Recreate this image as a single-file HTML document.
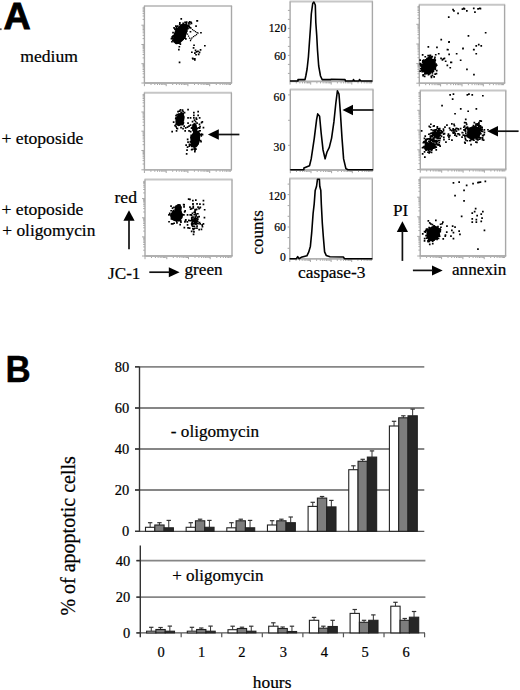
<!DOCTYPE html>
<html><head><meta charset="utf-8"><style>
html,body{margin:0;padding:0;background:#fff;}
svg{display:block;}
</style></head><body>
<svg width="520" height="690" viewBox="0 0 520 690">
<text x="3.6" y="29.3" font-size="36.6" font-weight="bold" stroke="#000" stroke-width="0.8" font-family="Liberation Sans" transform="translate(3.6,29.3) scale(1.03,1) translate(-3.6,-29.3)">A</text>
<text x="5.6" y="382.1" font-size="36.4" font-weight="bold" stroke="#000" stroke-width="0.4" font-family="Liberation Sans" transform="translate(5.6,382.1) scale(0.96,1) translate(-5.6,-382.1)">B</text>
<rect x="0" y="28.3" width="1.6" height="1.8" fill="#555"/>
<g font-family="Liberation Serif" fill="#000" stroke="#000" stroke-width="0.22">
<text transform="translate(20.3,61.5) scale(1.035,1)" font-size="17" text-anchor="start" >medium</text>
<text transform="translate(1.5,144) scale(1.035,1)" font-size="17" text-anchor="start" >+ etoposide</text>
<text transform="translate(1.5,214.5) scale(1.035,1)" font-size="17" text-anchor="start" >+ etoposide</text>
<text transform="translate(2.3,235.7) scale(1.02,1)" font-size="17" text-anchor="start" >+ oligomycin</text>
<text transform="translate(114.5,202.6) scale(1.035,1)" font-size="17" text-anchor="start" >red</text>
<text transform="translate(108,279.1) scale(1.035,1)" font-size="16.6" text-anchor="start" >JC-1</text>
<text transform="translate(184.5,275.3) scale(1.035,1)" font-size="16.6" text-anchor="start" >green</text>
<text transform="translate(298,278.4) scale(1.035,1)" font-size="16.8" text-anchor="start" >caspase-3</text>
<text transform="translate(393,216) scale(1.035,1)" font-size="16.6" text-anchor="start" >PI</text>
<text transform="translate(452,274.8) scale(1.035,1)" font-size="16.6" text-anchor="start" >annexin</text>
<text transform="translate(263,254.5) rotate(-90)" font-size="17">counts</text>
<text transform="translate(286.2,32) scale(1.0,1)" font-size="11.6" text-anchor="end" >120</text>
<text transform="translate(285.8,59.6) scale(1.0,1)" font-size="11.6" text-anchor="end" >60</text>
<text transform="translate(285.2,100.6) scale(1.0,1)" font-size="11.6" text-anchor="end" >60</text>
<text transform="translate(285.2,151) scale(1.0,1)" font-size="11.6" text-anchor="end" >30</text>
<text transform="translate(285.9,200) scale(1.0,1)" font-size="11.6" text-anchor="end" >120</text>
<text transform="translate(285.9,231.3) scale(1.0,1)" font-size="11.6" text-anchor="end" >60</text>
<text transform="translate(285.9,261.2) scale(1.0,1)" font-size="11.6" text-anchor="end" >0</text>
</g>
<path d="M141.4 83.0H144.4M142.6 77.2H144.4M142.6 73.8H144.4M142.6 71.4H144.4M142.6 69.5H144.4M142.6 68.0H144.4M142.6 66.7H144.4M142.6 65.6H144.4M142.6 64.6H144.4M141.4 63.7H144.4M142.6 57.9H144.4M142.6 54.5H144.4M142.6 52.1H144.4M142.6 50.3H144.4M142.6 48.7H144.4M142.6 47.4H144.4M142.6 46.3H144.4M142.6 45.3H144.4M141.4 44.5H144.4M142.6 38.6H144.4M142.6 35.3H144.4M142.6 32.8H144.4M142.6 31.0H144.4M142.6 29.5H144.4M142.6 28.2H144.4M142.6 27.0H144.4M142.6 26.1H144.4M141.4 25.2H144.4M142.6 19.4H144.4M142.6 16.0H144.4M142.6 13.6H144.4M142.6 11.7H144.4M142.6 10.2H144.4M142.6 8.9H144.4M142.6 7.8H144.4M144.4 83V86.2M151.0 83V85.0M154.8 83V85.0M157.5 83V85.0M159.6 83V85.0M161.3 83V85.0M162.8 83V85.0M164.1 83V85.0M165.2 83V85.0M166.2 83V86.2M172.7 83V85.0M176.6 83V85.0M179.3 83V85.0M181.4 83V85.0M183.1 83V85.0M184.6 83V85.0M185.8 83V85.0M187.0 83V85.0M187.9 83V86.2M194.5 83V85.0M198.3 83V85.0M201.1 83V85.0M203.2 83V85.0M204.9 83V85.0M206.4 83V85.0M207.6 83V85.0M208.7 83V85.0M209.7 83V86.2M216.3 83V85.0M220.1 83V85.0M222.8 83V85.0M224.9 83V85.0M226.7 83V85.0M228.1 83V85.0M229.4 83V85.0M230.5 83V85.0" stroke="#a6a6a6" stroke-width="1" fill="none"/>
<line x1="143.9" y1="5.9" x2="232.1" y2="5.9" stroke="#c6c6c6" stroke-width="2"/>
<line x1="143.9" y1="83" x2="232.1" y2="83" stroke="#b0b0b0" stroke-width="1.8"/>
<line x1="144.4" y1="5.9" x2="144.4" y2="83" stroke="#a8a8a8" stroke-width="1.4"/>
<line x1="231.5" y1="5.9" x2="231.5" y2="83" stroke="#a8a8a8" stroke-width="1.4"/>
<path d="M141.4 169.8H144.4M142.6 164.0H144.4M142.6 160.6H144.4M142.6 158.2H144.4M142.6 156.3H144.4M142.6 154.8H144.4M142.6 153.5H144.4M142.6 152.4H144.4M142.6 151.4H144.4M141.4 150.5H144.4M142.6 144.7H144.4M142.6 141.3H144.4M142.6 138.9H144.4M142.6 137.1H144.4M142.6 135.5H144.4M142.6 134.2H144.4M142.6 133.1H144.4M142.6 132.1H144.4M141.4 131.2H144.4M142.6 125.4H144.4M142.6 122.1H144.4M142.6 119.6H144.4M142.6 117.8H144.4M142.6 116.3H144.4M142.6 115.0H144.4M142.6 113.8H144.4M142.6 112.9H144.4M141.4 112.0H144.4M142.6 106.2H144.4M142.6 102.8H144.4M142.6 100.4H144.4M142.6 98.5H144.4M142.6 97.0H144.4M142.6 95.7H144.4M142.6 94.6H144.4M144.4 169.8V173.0M150.9 169.8V171.8M154.8 169.8V171.8M157.5 169.8V171.8M159.6 169.8V171.8M161.3 169.8V171.8M162.8 169.8V171.8M164.0 169.8V171.8M165.2 169.8V171.8M166.2 169.8V173.0M172.7 169.8V171.8M176.5 169.8V171.8M179.2 169.8V171.8M181.4 169.8V171.8M183.1 169.8V171.8M184.5 169.8V171.8M185.8 169.8V171.8M186.9 169.8V171.8M187.9 169.8V173.0M194.4 169.8V171.8M198.3 169.8V171.8M201.0 169.8V171.8M203.1 169.8V171.8M204.8 169.8V171.8M206.3 169.8V171.8M207.5 169.8V171.8M208.7 169.8V171.8M209.7 169.8V173.0M216.2 169.8V171.8M220.0 169.8V171.8M222.7 169.8V171.8M224.9 169.8V171.8M226.6 169.8V171.8M228.0 169.8V171.8M229.3 169.8V171.8M230.4 169.8V171.8" stroke="#a6a6a6" stroke-width="1" fill="none"/>
<line x1="143.9" y1="92.7" x2="232.0" y2="92.7" stroke="#c6c6c6" stroke-width="2"/>
<line x1="143.9" y1="169.8" x2="232.0" y2="169.8" stroke="#b0b0b0" stroke-width="1.8"/>
<line x1="144.4" y1="92.7" x2="144.4" y2="169.8" stroke="#a8a8a8" stroke-width="1.4"/>
<line x1="231.4" y1="92.7" x2="231.4" y2="169.8" stroke="#a8a8a8" stroke-width="1.4"/>
<path d="M142.0 256.0H145M143.2 250.2H145M143.2 246.9H145M143.2 244.5H145M143.2 242.6H145M143.2 241.1H145M143.2 239.8H145M143.2 238.7H145M143.2 237.8H145M142.0 236.9H145M143.2 231.1H145M143.2 227.8H145M143.2 225.4H145M143.2 223.5H145M143.2 222.0H145M143.2 220.7H145M143.2 219.6H145M143.2 218.6H145M142.0 217.8H145M143.2 212.0H145M143.2 208.6H145M143.2 206.2H145M143.2 204.4H145M143.2 202.9H145M143.2 201.6H145M143.2 200.5H145M143.2 199.5H145M142.0 198.6H145M143.2 192.9H145M143.2 189.5H145M143.2 187.1H145M143.2 185.3H145M143.2 183.7H145M143.2 182.5H145M143.2 181.4H145M145.0 256V259.2M151.5 256V258.0M155.4 256V258.0M158.1 256V258.0M160.2 256V258.0M161.9 256V258.0M163.4 256V258.0M164.6 256V258.0M165.8 256V258.0M166.8 256V259.2M173.3 256V258.0M177.1 256V258.0M179.8 256V258.0M182.0 256V258.0M183.7 256V258.0M185.1 256V258.0M186.4 256V258.0M187.5 256V258.0M188.5 256V259.2M195.0 256V258.0M198.9 256V258.0M201.6 256V258.0M203.7 256V258.0M205.4 256V258.0M206.9 256V258.0M208.1 256V258.0M209.3 256V258.0M210.2 256V259.2M216.8 256V258.0M220.6 256V258.0M223.3 256V258.0M225.5 256V258.0M227.2 256V258.0M228.6 256V258.0M229.9 256V258.0M231.0 256V258.0" stroke="#a6a6a6" stroke-width="1" fill="none"/>
<line x1="144.5" y1="179.5" x2="232.6" y2="179.5" stroke="#c6c6c6" stroke-width="2"/>
<line x1="144.5" y1="256" x2="232.6" y2="256" stroke="#b0b0b0" stroke-width="1.8"/>
<line x1="145" y1="179.5" x2="145" y2="256" stroke="#a8a8a8" stroke-width="1.4"/>
<line x1="232" y1="179.5" x2="232" y2="256" stroke="#a8a8a8" stroke-width="1.4"/>
<path d="M416.3 83.2H419.3M417.5 77.3H419.3M417.5 73.8H419.3M417.5 71.4H419.3M417.5 69.5H419.3M417.5 67.9H419.3M417.5 66.6H419.3M417.5 65.5H419.3M417.5 64.5H419.3M416.3 63.6H419.3M417.5 57.7H419.3M417.5 54.2H419.3M417.5 51.8H419.3M417.5 49.9H419.3M417.5 48.3H419.3M417.5 47.0H419.3M417.5 45.9H419.3M417.5 44.8H419.3M416.3 44.0H419.3M417.5 38.0H419.3M417.5 34.6H419.3M417.5 32.1H419.3M417.5 30.2H419.3M417.5 28.7H419.3M417.5 27.4H419.3M417.5 26.2H419.3M417.5 25.2H419.3M416.3 24.3H419.3M417.5 18.4H419.3M417.5 15.0H419.3M417.5 12.5H419.3M417.5 10.6H419.3M417.5 9.1H419.3M417.5 7.7H419.3M417.5 6.6H419.3M419.3 83.2V86.4M425.7 83.2V85.2M429.5 83.2V85.2M432.1 83.2V85.2M434.2 83.2V85.2M435.9 83.2V85.2M437.3 83.2V85.2M438.6 83.2V85.2M439.6 83.2V85.2M440.6 83.2V86.4M447.0 83.2V85.2M450.8 83.2V85.2M453.5 83.2V85.2M455.5 83.2V85.2M457.2 83.2V85.2M458.6 83.2V85.2M459.9 83.2V85.2M461.0 83.2V85.2M462.0 83.2V86.4M468.4 83.2V85.2M472.1 83.2V85.2M474.8 83.2V85.2M476.9 83.2V85.2M478.5 83.2V85.2M480.0 83.2V85.2M481.2 83.2V85.2M482.3 83.2V85.2M483.3 83.2V86.4M489.7 83.2V85.2M493.4 83.2V85.2M496.1 83.2V85.2M498.2 83.2V85.2M499.9 83.2V85.2M501.3 83.2V85.2M502.5 83.2V85.2M503.6 83.2V85.2" stroke="#a6a6a6" stroke-width="1" fill="none"/>
<line x1="418.8" y1="4.7" x2="505.20000000000005" y2="4.7" stroke="#c6c6c6" stroke-width="2"/>
<line x1="418.8" y1="83.2" x2="505.20000000000005" y2="83.2" stroke="#b0b0b0" stroke-width="1.8"/>
<line x1="419.3" y1="4.7" x2="419.3" y2="83.2" stroke="#a8a8a8" stroke-width="1.4"/>
<line x1="504.6" y1="4.7" x2="504.6" y2="83.2" stroke="#a8a8a8" stroke-width="1.4"/>
<path d="M417.3 169.5H420.3M418.5 163.6H420.3M418.5 160.1H420.3M418.5 157.6H420.3M418.5 155.7H420.3M418.5 154.2H420.3M418.5 152.8H420.3M418.5 151.7H420.3M418.5 150.7H420.3M417.3 149.8H420.3M418.5 143.8H420.3M418.5 140.4H420.3M418.5 137.9H420.3M418.5 136.0H420.3M418.5 134.4H420.3M418.5 133.1H420.3M418.5 132.0H420.3M418.5 131.0H420.3M417.3 130.1H420.3M418.5 124.1H420.3M418.5 120.6H420.3M418.5 118.2H420.3M418.5 116.3H420.3M418.5 114.7H420.3M418.5 113.4H420.3M418.5 112.2H420.3M418.5 111.2H420.3M417.3 110.3H420.3M418.5 104.4H420.3M418.5 100.9H420.3M418.5 98.4H420.3M418.5 96.5H420.3M418.5 95.0H420.3M418.5 93.7H420.3M418.5 92.5H420.3M420.3 169.5V172.7M426.7 169.5V171.5M430.5 169.5V171.5M433.2 169.5V171.5M435.2 169.5V171.5M436.9 169.5V171.5M438.4 169.5V171.5M439.6 169.5V171.5M440.7 169.5V171.5M441.7 169.5V172.7M448.1 169.5V171.5M451.9 169.5V171.5M454.5 169.5V171.5M456.6 169.5V171.5M458.3 169.5V171.5M459.7 169.5V171.5M461.0 169.5V171.5M462.1 169.5V171.5M463.1 169.5V172.7M469.5 169.5V171.5M473.2 169.5V171.5M475.9 169.5V171.5M478.0 169.5V171.5M479.7 169.5V171.5M481.1 169.5V171.5M482.4 169.5V171.5M483.4 169.5V171.5M484.4 169.5V172.7M490.9 169.5V171.5M494.6 169.5V171.5M497.3 169.5V171.5M499.4 169.5V171.5M501.1 169.5V171.5M502.5 169.5V171.5M503.7 169.5V171.5M504.8 169.5V171.5" stroke="#a6a6a6" stroke-width="1" fill="none"/>
<line x1="419.8" y1="90.6" x2="506.40000000000003" y2="90.6" stroke="#c6c6c6" stroke-width="2"/>
<line x1="419.8" y1="169.5" x2="506.40000000000003" y2="169.5" stroke="#b0b0b0" stroke-width="1.8"/>
<line x1="420.3" y1="90.6" x2="420.3" y2="169.5" stroke="#a8a8a8" stroke-width="1.4"/>
<line x1="505.8" y1="90.6" x2="505.8" y2="169.5" stroke="#a8a8a8" stroke-width="1.4"/>
<path d="M417.2 256.0H420.2M418.4 250.1H420.2M418.4 246.6H420.2M418.4 244.2H420.2M418.4 242.3H420.2M418.4 240.7H420.2M418.4 239.4H420.2M418.4 238.3H420.2M418.4 237.3H420.2M417.2 236.4H420.2M418.4 230.5H420.2M418.4 227.0H420.2M418.4 224.6H420.2M418.4 222.7H420.2M418.4 221.1H420.2M418.4 219.8H420.2M418.4 218.7H420.2M418.4 217.7H420.2M417.2 216.8H420.2M418.4 210.9H420.2M418.4 207.4H420.2M418.4 205.0H420.2M418.4 203.1H420.2M418.4 201.5H420.2M418.4 200.2H420.2M418.4 199.1H420.2M418.4 198.1H420.2M417.2 197.2H420.2M418.4 191.3H420.2M418.4 187.8H420.2M418.4 185.4H420.2M418.4 183.5H420.2M418.4 181.9H420.2M418.4 180.6H420.2M418.4 179.5H420.2M420.2 256V259.2M426.6 256V258.0M430.4 256V258.0M433.1 256V258.0M435.1 256V258.0M436.8 256V258.0M438.2 256V258.0M439.5 256V258.0M440.6 256V258.0M441.6 256V259.2M448.0 256V258.0M451.7 256V258.0M454.4 256V258.0M456.5 256V258.0M458.2 256V258.0M459.6 256V258.0M460.8 256V258.0M461.9 256V258.0M462.9 256V259.2M469.3 256V258.0M473.1 256V258.0M475.8 256V258.0M477.8 256V258.0M479.5 256V258.0M480.9 256V258.0M482.2 256V258.0M483.3 256V258.0M484.2 256V259.2M490.7 256V258.0M494.4 256V258.0M497.1 256V258.0M499.2 256V258.0M500.9 256V258.0M502.3 256V258.0M503.5 256V258.0M504.6 256V258.0" stroke="#a6a6a6" stroke-width="1" fill="none"/>
<line x1="419.7" y1="177.6" x2="506.20000000000005" y2="177.6" stroke="#c6c6c6" stroke-width="2"/>
<line x1="419.7" y1="256" x2="506.20000000000005" y2="256" stroke="#b0b0b0" stroke-width="1.8"/>
<line x1="420.2" y1="177.6" x2="420.2" y2="256" stroke="#a8a8a8" stroke-width="1.4"/>
<line x1="505.6" y1="177.6" x2="505.6" y2="256" stroke="#a8a8a8" stroke-width="1.4"/>
<path d="M287.9 10.4H290.1M287.9 19.4H290.1M287.9 28.4H290.1M287.9 37.4H290.1M287.9 46.4H290.1M287.9 55.4H290.1M287.9 64.4H290.1M287.9 73.4H290.1M290.1 81.4V84.6M296.3 81.4V83.4M299.9 81.4V83.4M302.5 81.4V83.4M304.5 81.4V83.4M306.1 81.4V83.4M307.5 81.4V83.4M308.7 81.4V83.4M309.7 81.4V83.4M310.7 81.4V84.6M316.9 81.4V83.4M320.5 81.4V83.4M323.1 81.4V83.4M325.1 81.4V83.4M326.7 81.4V83.4M328.1 81.4V83.4M329.3 81.4V83.4M330.3 81.4V83.4M331.2 81.4V84.6M337.4 81.4V83.4M341.1 81.4V83.4M343.6 81.4V83.4M345.6 81.4V83.4M347.3 81.4V83.4M348.6 81.4V83.4M349.8 81.4V83.4M350.9 81.4V83.4M351.8 81.4V84.6M358.0 81.4V83.4M361.6 81.4V83.4M364.2 81.4V83.4M366.2 81.4V83.4M367.8 81.4V83.4M369.2 81.4V83.4M370.4 81.4V83.4M371.5 81.4V83.4" stroke="#a6a6a6" stroke-width="1" fill="none"/>
<line x1="289.6" y1="1.4" x2="373.0" y2="1.4" stroke="#c6c6c6" stroke-width="2"/>
<line x1="289.6" y1="81.4" x2="373.0" y2="81.4" stroke="#b0b0b0" stroke-width="1.8"/>
<line x1="290.1" y1="1.4" x2="290.1" y2="81.4" stroke="#a8a8a8" stroke-width="1.4"/>
<line x1="372.4" y1="1.4" x2="372.4" y2="81.4" stroke="#a8a8a8" stroke-width="1.4"/>
<path d="M288.1 94.9H290.3M288.1 120.3H290.3M288.1 145.3H290.3M290.3 170V173.2M296.5 170V172.0M300.2 170V172.0M302.7 170V172.0M304.8 170V172.0M306.4 170V172.0M307.8 170V172.0M309.0 170V172.0M310.0 170V172.0M311.0 170V173.2M317.2 170V172.0M320.8 170V172.0M323.4 170V172.0M325.4 170V172.0M327.1 170V172.0M328.4 170V172.0M329.6 170V172.0M330.7 170V172.0M331.6 170V173.2M337.9 170V172.0M341.5 170V172.0M344.1 170V172.0M346.1 170V172.0M347.7 170V172.0M349.1 170V172.0M350.3 170V172.0M351.4 170V172.0M352.3 170V173.2M358.5 170V172.0M362.2 170V172.0M364.8 170V172.0M366.8 170V172.0M368.4 170V172.0M369.8 170V172.0M371.0 170V172.0M372.1 170V172.0" stroke="#a6a6a6" stroke-width="1" fill="none"/>
<line x1="289.8" y1="89.6" x2="373.6" y2="89.6" stroke="#c6c6c6" stroke-width="2"/>
<line x1="289.8" y1="170" x2="373.6" y2="170" stroke="#b0b0b0" stroke-width="1.8"/>
<line x1="290.3" y1="89.6" x2="290.3" y2="170" stroke="#a8a8a8" stroke-width="1.4"/>
<line x1="373" y1="89.6" x2="373" y2="170" stroke="#a8a8a8" stroke-width="1.4"/>
<path d="M287.6 184.1H289.8M287.6 194.6H289.8M287.6 205.6H289.8M287.6 216.3H289.8M287.6 227.0H289.8M287.6 237.6H289.8M287.6 248.3H289.8M289.8 258.8V262.0M296.0 258.8V260.8M299.6 258.8V260.8M302.2 258.8V260.8M304.2 258.8V260.8M305.8 258.8V260.8M307.2 258.8V260.8M308.4 258.8V260.8M309.5 258.8V260.8M310.4 258.8V262.0M316.6 258.8V260.8M320.3 258.8V260.8M322.8 258.8V260.8M324.8 258.8V260.8M326.5 258.8V260.8M327.9 258.8V260.8M329.1 258.8V260.8M330.1 258.8V260.8M331.1 258.8V262.0M337.3 258.8V260.8M340.9 258.8V260.8M343.5 258.8V260.8M345.5 258.8V260.8M347.1 258.8V260.8M348.5 258.8V260.8M349.7 258.8V260.8M350.7 258.8V260.8M351.7 258.8V262.0M357.9 258.8V260.8M361.5 258.8V260.8M364.1 258.8V260.8M366.1 258.8V260.8M367.7 258.8V260.8M369.1 258.8V260.8M370.3 258.8V260.8M371.4 258.8V260.8" stroke="#a6a6a6" stroke-width="1" fill="none"/>
<line x1="289.3" y1="178.6" x2="372.90000000000003" y2="178.6" stroke="#c6c6c6" stroke-width="2"/>
<line x1="289.3" y1="258.8" x2="372.90000000000003" y2="258.8" stroke="#b0b0b0" stroke-width="1.8"/>
<line x1="289.8" y1="178.6" x2="289.8" y2="258.8" stroke="#a8a8a8" stroke-width="1.4"/>
<line x1="372.3" y1="178.6" x2="372.3" y2="258.8" stroke="#a8a8a8" stroke-width="1.4"/>
<ellipse cx="180.2" cy="34" rx="6.0" ry="11" transform="rotate(26 180.2 34)" fill="#000"/>
<path d="M185.9 22.9h1.25v1.25h-1.25zM187.4 24.4h1.25v1.25h-1.25zM188.9 25.9h1.25v1.25h-1.25zM190.4 27.4h1.25v1.25h-1.25zM191.9 28.9h1.25v1.25h-1.25zM193.4 29.9h1.25v1.25h-1.25zM194.9 30.9h1.25v1.25h-1.25zM196.4 31.9h1.25v1.25h-1.25zM197.4 32.6h1.25v1.25h-1.25zM195.9 33.9h1.25v1.25h-1.25zM194.4 34.9h1.25v1.25h-1.25zM192.9 36.0h1.25v1.25h-1.25zM191.4 37.2h1.25v1.25h-1.25zM190.4 38.4h1.25v1.25h-1.25zM189.9 39.9h1.25v1.25h-1.25zM188.9 37.4h1.25v1.25h-1.25zM187.9 35.4h1.25v1.25h-1.25zM186.9 33.4h1.25v1.25h-1.25zM185.9 30.9h1.25v1.25h-1.25zM189.4 23.4h1.25v1.25h-1.25zM187.9 22.2h1.25v1.25h-1.25z" fill="#000"/>
<path d="M177.4 35.4h1.7v1.7h-1.7zM179.5 31.3h1.7v1.7h-1.7zM177.4 30.9h1.7v1.7h-1.7zM181.3 36.7h1.7v1.7h-1.7zM181.5 35.8h1.7v1.7h-1.7zM180.0 34.6h1.7v1.7h-1.7zM172.8 35.3h1.7v1.7h-1.7zM179.5 36.3h1.7v1.7h-1.7zM179.0 22.1h1.7v1.7h-1.7zM178.1 29.6h1.7v1.7h-1.7zM180.3 33.3h1.7v1.7h-1.7zM182.3 30.6h1.7v1.7h-1.7zM179.2 35.5h1.7v1.7h-1.7zM173.4 40.9h1.7v1.7h-1.7zM177.9 39.9h1.7v1.7h-1.7zM179.5 28.6h1.7v1.7h-1.7zM178.7 32.2h1.7v1.7h-1.7zM180.5 35.2h1.7v1.7h-1.7zM180.5 27.7h1.7v1.7h-1.7zM175.0 38.6h1.7v1.7h-1.7zM176.6 33.3h1.7v1.7h-1.7zM184.1 26.2h1.7v1.7h-1.7zM176.3 39.8h1.7v1.7h-1.7zM174.7 28.9h1.7v1.7h-1.7zM181.1 28.9h1.7v1.7h-1.7zM180.8 33.5h1.7v1.7h-1.7zM173.4 35.4h1.7v1.7h-1.7zM178.9 38.8h1.7v1.7h-1.7zM182.4 36.9h1.7v1.7h-1.7zM182.8 26.8h1.7v1.7h-1.7zM182.5 30.9h1.7v1.7h-1.7zM181.2 26.2h1.7v1.7h-1.7zM178.0 29.2h1.7v1.7h-1.7zM187.8 24.6h1.7v1.7h-1.7zM174.8 32.5h1.7v1.7h-1.7zM181.8 38.0h1.7v1.7h-1.7zM180.4 18.0h1.7v1.7h-1.7zM182.1 29.9h1.7v1.7h-1.7zM173.9 36.6h1.7v1.7h-1.7zM181.9 35.4h1.7v1.7h-1.7zM179.0 35.7h1.7v1.7h-1.7zM182.1 38.4h1.7v1.7h-1.7zM179.4 36.6h1.7v1.7h-1.7zM172.0 37.6h1.7v1.7h-1.7zM180.6 37.1h1.7v1.7h-1.7zM175.6 27.4h1.7v1.7h-1.7zM186.0 25.1h1.7v1.7h-1.7zM176.4 38.1h1.7v1.7h-1.7zM171.9 39.6h1.7v1.7h-1.7zM181.2 33.1h1.7v1.7h-1.7zM178.6 36.9h1.7v1.7h-1.7zM176.9 39.1h1.7v1.7h-1.7zM178.6 30.2h1.7v1.7h-1.7zM182.1 34.6h1.7v1.7h-1.7zM174.7 36.8h1.7v1.7h-1.7zM184.4 32.8h1.7v1.7h-1.7zM176.0 30.7h1.7v1.7h-1.7zM179.7 31.5h1.7v1.7h-1.7zM185.6 29.8h1.7v1.7h-1.7zM185.8 28.4h1.7v1.7h-1.7zM175.7 35.3h1.7v1.7h-1.7zM180.3 39.0h1.7v1.7h-1.7zM179.9 34.3h1.7v1.7h-1.7zM178.4 36.2h1.7v1.7h-1.7zM178.2 34.3h1.7v1.7h-1.7zM180.9 33.9h1.7v1.7h-1.7zM180.0 37.0h1.7v1.7h-1.7zM184.0 37.4h1.7v1.7h-1.7zM179.1 30.7h1.7v1.7h-1.7zM177.1 37.8h1.7v1.7h-1.7zM177.5 34.7h1.7v1.7h-1.7zM190.6 22.6h1.7v1.7h-1.7zM175.7 32.9h1.7v1.7h-1.7zM179.8 34.9h1.7v1.7h-1.7zM176.6 35.9h1.7v1.7h-1.7zM181.4 30.9h1.7v1.7h-1.7zM185.0 38.1h1.7v1.7h-1.7zM178.1 31.9h1.7v1.7h-1.7zM178.9 32.5h1.7v1.7h-1.7zM173.2 27.1h1.7v1.7h-1.7zM184.9 28.6h1.7v1.7h-1.7zM176.8 37.9h1.7v1.7h-1.7zM178.0 41.8h1.7v1.7h-1.7zM175.6 29.1h1.7v1.7h-1.7zM176.9 35.8h1.7v1.7h-1.7zM188.8 21.0h1.7v1.7h-1.7zM185.8 27.3h1.7v1.7h-1.7zM184.8 26.5h1.7v1.7h-1.7zM176.9 39.4h1.7v1.7h-1.7zM178.5 33.9h1.7v1.7h-1.7zM181.2 34.9h1.7v1.7h-1.7zM175.4 40.8h1.7v1.7h-1.7zM182.9 33.0h1.7v1.7h-1.7zM189.6 30.9h1.7v1.7h-1.7zM182.5 33.0h1.7v1.7h-1.7zM178.0 36.9h1.7v1.7h-1.7zM178.4 36.7h1.7v1.7h-1.7zM178.9 23.5h1.7v1.7h-1.7zM183.4 29.1h1.7v1.7h-1.7zM180.2 24.4h1.7v1.7h-1.7zM181.0 38.6h1.7v1.7h-1.7zM185.6 30.3h1.7v1.7h-1.7zM182.1 27.4h1.7v1.7h-1.7zM177.5 42.2h1.7v1.7h-1.7zM173.1 39.9h1.7v1.7h-1.7zM182.5 33.5h1.7v1.7h-1.7zM170.6 37.7h1.7v1.7h-1.7zM180.6 30.0h1.7v1.7h-1.7zM179.4 35.7h1.7v1.7h-1.7zM185.9 30.0h1.7v1.7h-1.7zM178.8 42.1h1.7v1.7h-1.7zM183.7 34.1h1.7v1.7h-1.7zM174.9 37.3h1.7v1.7h-1.7zM179.4 33.9h1.7v1.7h-1.7zM183.8 33.7h1.7v1.7h-1.7zM174.1 28.2h1.7v1.7h-1.7zM172.3 34.9h1.7v1.7h-1.7zM181.7 30.5h1.7v1.7h-1.7zM177.3 37.3h1.7v1.7h-1.7zM176.3 39.9h1.7v1.7h-1.7zM176.7 38.3h1.7v1.7h-1.7zM179.5 43.2h1.7v1.7h-1.7zM175.4 36.7h1.7v1.7h-1.7zM176.9 25.2h1.7v1.7h-1.7zM171.4 36.0h1.7v1.7h-1.7zM176.1 31.5h1.7v1.7h-1.7zM178.9 32.8h1.7v1.7h-1.7zM177.2 33.6h1.7v1.7h-1.7zM184.1 35.7h1.7v1.7h-1.7zM178.3 38.9h1.7v1.7h-1.7zM181.9 26.5h1.7v1.7h-1.7zM175.2 37.8h1.7v1.7h-1.7zM176.4 28.0h1.7v1.7h-1.7zM180.1 38.5h1.7v1.7h-1.7zM177.4 37.2h1.7v1.7h-1.7zM182.7 27.4h1.7v1.7h-1.7zM176.7 27.9h1.7v1.7h-1.7zM183.2 31.5h1.7v1.7h-1.7zM178.8 28.1h1.7v1.7h-1.7zM175.5 30.6h1.7v1.7h-1.7zM175.3 33.4h1.7v1.7h-1.7zM172.2 31.7h1.7v1.7h-1.7zM182.3 22.5h1.7v1.7h-1.7zM182.0 32.7h1.7v1.7h-1.7zM175.5 25.8h1.7v1.7h-1.7zM181.3 31.2h1.7v1.7h-1.7zM179.6 37.9h1.7v1.7h-1.7zM180.4 35.7h1.7v1.7h-1.7zM181.3 38.2h1.7v1.7h-1.7zM185.6 23.2h1.7v1.7h-1.7zM186.3 27.1h1.7v1.7h-1.7zM184.1 24.4h1.7v1.7h-1.7zM188.1 22.5h1.7v1.7h-1.7zM185.5 28.8h1.7v1.7h-1.7zM183.0 26.2h1.7v1.7h-1.7zM188.0 25.0h1.7v1.7h-1.7zM185.7 26.5h1.7v1.7h-1.7zM183.0 25.0h1.7v1.7h-1.7zM185.2 26.4h1.7v1.7h-1.7zM184.6 24.9h1.7v1.7h-1.7zM182.8 24.6h1.7v1.7h-1.7zM186.3 25.3h1.7v1.7h-1.7zM183.1 23.9h1.7v1.7h-1.7zM189.5 26.9h1.7v1.7h-1.7zM185.8 21.3h1.7v1.7h-1.7zM185.8 25.9h1.7v1.7h-1.7zM187.7 25.8h1.7v1.7h-1.7zM184.5 25.9h1.7v1.7h-1.7zM181.2 26.7h1.7v1.7h-1.7zM185.2 24.1h1.7v1.7h-1.7zM187.0 27.9h1.7v1.7h-1.7zM182.1 24.2h1.7v1.7h-1.7zM185.2 25.4h1.7v1.7h-1.7zM183.9 23.7h1.7v1.7h-1.7zM188.5 26.7h1.7v1.7h-1.7zM196.2 20.1h1.7v1.7h-1.7zM195.2 25.3h1.7v1.7h-1.7zM200.1 31.9h1.7v1.7h-1.7zM175.0 25.2h1.7v1.7h-1.7zM178.0 48.8h1.7v1.7h-1.7zM193.2 44.4h1.7v1.7h-1.7zM204.0 44.9h1.7v1.7h-1.7zM192.7 47.0h1.7v1.7h-1.7zM194.0 52.2h1.7v1.7h-1.7zM197.1 50.4h1.7v1.7h-1.7zM199.7 49.1h1.7v1.7h-1.7zM191.0 51.4h1.7v1.7h-1.7zM195.2 53.9h1.7v1.7h-1.7zM197.8 53.5h1.7v1.7h-1.7zM191.8 57.4h1.7v1.7h-1.7zM194.0 57.9h1.7v1.7h-1.7zM171.1 40.9h1.7v1.7h-1.7zM178.7 61.6h1.7v1.7h-1.7zM192.2 58.1h1.7v1.7h-1.7zM194.0 59.1h1.7v1.7h-1.7zM196.5 20.1h1.7v1.7h-1.7zM198.7 51.6h1.7v1.7h-1.7zM195.7 51.1h1.7v1.7h-1.7zM194.7 49.6h1.7v1.7h-1.7zM184.2 21.6h1.7v1.7h-1.7zM190.2 21.6h1.7v1.7h-1.7zM178.5 45.9h1.7v1.7h-1.7zM171.5 37.6h1.7v1.7h-1.7z" fill="#000"/>
<ellipse cx="180" cy="119.6" rx="4.3" ry="6.8" transform="rotate(18 180 119.6)" fill="#000"/>
<ellipse cx="195.2" cy="139.5" rx="4.8" ry="8.6" transform="rotate(8 195.2 139.5)" fill="#000"/>
<ellipse cx="194.6" cy="128" rx="2.4" ry="5" transform="rotate(0 194.6 128)" fill="#000"/>
<path d="M178.0 113.3h1.7v1.7h-1.7zM181.8 123.3h1.7v1.7h-1.7zM182.3 122.8h1.7v1.7h-1.7zM177.0 119.1h1.7v1.7h-1.7zM175.2 114.7h1.7v1.7h-1.7zM178.5 120.5h1.7v1.7h-1.7zM177.7 117.8h1.7v1.7h-1.7zM179.8 120.4h1.7v1.7h-1.7zM180.3 119.9h1.7v1.7h-1.7zM177.6 121.2h1.7v1.7h-1.7zM180.1 115.9h1.7v1.7h-1.7zM177.8 118.3h1.7v1.7h-1.7zM178.7 119.2h1.7v1.7h-1.7zM179.0 119.4h1.7v1.7h-1.7zM180.2 114.3h1.7v1.7h-1.7zM179.0 122.7h1.7v1.7h-1.7zM180.3 118.4h1.7v1.7h-1.7zM181.2 115.7h1.7v1.7h-1.7zM174.9 117.7h1.7v1.7h-1.7zM176.3 120.7h1.7v1.7h-1.7zM179.6 109.0h1.7v1.7h-1.7zM175.2 123.5h1.7v1.7h-1.7zM179.8 113.8h1.7v1.7h-1.7zM176.9 120.0h1.7v1.7h-1.7zM180.1 119.7h1.7v1.7h-1.7zM181.7 122.2h1.7v1.7h-1.7zM178.5 120.8h1.7v1.7h-1.7zM181.8 123.2h1.7v1.7h-1.7zM182.6 115.7h1.7v1.7h-1.7zM178.0 121.2h1.7v1.7h-1.7zM177.4 122.2h1.7v1.7h-1.7zM179.5 122.3h1.7v1.7h-1.7zM176.0 127.4h1.7v1.7h-1.7zM182.1 118.9h1.7v1.7h-1.7zM176.6 127.7h1.7v1.7h-1.7zM177.5 121.5h1.7v1.7h-1.7zM181.3 119.4h1.7v1.7h-1.7zM176.4 118.6h1.7v1.7h-1.7zM178.7 122.9h1.7v1.7h-1.7zM180.8 119.4h1.7v1.7h-1.7zM180.5 121.2h1.7v1.7h-1.7zM179.5 119.1h1.7v1.7h-1.7zM177.9 120.9h1.7v1.7h-1.7zM177.5 115.9h1.7v1.7h-1.7zM180.7 113.7h1.7v1.7h-1.7zM180.3 111.5h1.7v1.7h-1.7zM177.0 120.2h1.7v1.7h-1.7zM180.5 118.9h1.7v1.7h-1.7zM180.1 113.7h1.7v1.7h-1.7zM182.6 121.8h1.7v1.7h-1.7zM182.5 116.5h1.7v1.7h-1.7zM180.7 112.4h1.7v1.7h-1.7zM179.9 122.5h1.7v1.7h-1.7zM175.0 117.3h1.7v1.7h-1.7zM182.4 113.1h1.7v1.7h-1.7zM176.3 113.8h1.7v1.7h-1.7zM179.3 113.5h1.7v1.7h-1.7zM179.0 119.6h1.7v1.7h-1.7zM179.8 121.6h1.7v1.7h-1.7zM181.2 123.8h1.7v1.7h-1.7zM176.8 116.1h1.7v1.7h-1.7zM178.0 114.3h1.7v1.7h-1.7zM179.0 118.7h1.7v1.7h-1.7zM181.9 113.6h1.7v1.7h-1.7zM176.5 117.8h1.7v1.7h-1.7zM179.0 117.5h1.7v1.7h-1.7zM179.8 116.1h1.7v1.7h-1.7zM180.3 120.4h1.7v1.7h-1.7zM179.7 116.4h1.7v1.7h-1.7zM181.7 109.3h1.7v1.7h-1.7zM191.6 136.0h1.7v1.7h-1.7zM190.1 136.8h1.7v1.7h-1.7zM195.4 128.7h1.7v1.7h-1.7zM193.7 134.4h1.7v1.7h-1.7zM194.9 139.6h1.7v1.7h-1.7zM194.6 131.5h1.7v1.7h-1.7zM193.8 135.7h1.7v1.7h-1.7zM195.9 138.0h1.7v1.7h-1.7zM193.2 128.5h1.7v1.7h-1.7zM193.7 132.0h1.7v1.7h-1.7zM191.4 135.2h1.7v1.7h-1.7zM192.8 136.6h1.7v1.7h-1.7zM195.8 134.1h1.7v1.7h-1.7zM200.4 135.1h1.7v1.7h-1.7zM196.9 137.2h1.7v1.7h-1.7zM198.6 123.5h1.7v1.7h-1.7zM192.0 137.3h1.7v1.7h-1.7zM194.2 149.1h1.7v1.7h-1.7zM194.1 143.2h1.7v1.7h-1.7zM195.5 141.6h1.7v1.7h-1.7zM195.6 135.5h1.7v1.7h-1.7zM196.2 130.4h1.7v1.7h-1.7zM197.9 131.0h1.7v1.7h-1.7zM193.4 147.8h1.7v1.7h-1.7zM193.6 136.2h1.7v1.7h-1.7zM197.1 136.7h1.7v1.7h-1.7zM191.9 137.3h1.7v1.7h-1.7zM195.2 140.2h1.7v1.7h-1.7zM191.0 145.5h1.7v1.7h-1.7zM198.4 136.8h1.7v1.7h-1.7zM195.1 133.9h1.7v1.7h-1.7zM198.3 132.7h1.7v1.7h-1.7zM196.2 133.7h1.7v1.7h-1.7zM191.9 139.9h1.7v1.7h-1.7zM197.6 136.5h1.7v1.7h-1.7zM191.9 140.4h1.7v1.7h-1.7zM193.8 137.8h1.7v1.7h-1.7zM197.3 142.8h1.7v1.7h-1.7zM191.3 148.5h1.7v1.7h-1.7zM193.6 140.4h1.7v1.7h-1.7zM192.5 135.7h1.7v1.7h-1.7zM188.5 145.4h1.7v1.7h-1.7zM198.5 129.9h1.7v1.7h-1.7zM191.3 126.8h1.7v1.7h-1.7zM197.5 134.0h1.7v1.7h-1.7zM194.2 134.4h1.7v1.7h-1.7zM194.6 130.2h1.7v1.7h-1.7zM195.2 128.3h1.7v1.7h-1.7zM193.8 137.8h1.7v1.7h-1.7zM195.5 135.0h1.7v1.7h-1.7zM191.7 136.7h1.7v1.7h-1.7zM191.9 144.5h1.7v1.7h-1.7zM196.2 135.8h1.7v1.7h-1.7zM193.4 132.2h1.7v1.7h-1.7zM192.0 133.9h1.7v1.7h-1.7zM194.6 139.1h1.7v1.7h-1.7zM194.2 147.8h1.7v1.7h-1.7zM192.3 136.0h1.7v1.7h-1.7zM202.6 126.8h1.7v1.7h-1.7zM192.7 136.9h1.7v1.7h-1.7zM194.3 138.4h1.7v1.7h-1.7zM193.3 138.1h1.7v1.7h-1.7zM193.8 140.4h1.7v1.7h-1.7zM189.8 130.7h1.7v1.7h-1.7zM194.8 130.5h1.7v1.7h-1.7zM191.0 139.3h1.7v1.7h-1.7zM192.1 139.4h1.7v1.7h-1.7zM195.9 138.1h1.7v1.7h-1.7zM195.5 135.7h1.7v1.7h-1.7zM190.5 135.5h1.7v1.7h-1.7zM195.7 133.4h1.7v1.7h-1.7zM193.4 140.2h1.7v1.7h-1.7zM191.5 139.4h1.7v1.7h-1.7zM199.3 133.7h1.7v1.7h-1.7zM194.6 135.4h1.7v1.7h-1.7zM197.9 138.4h1.7v1.7h-1.7zM196.9 132.7h1.7v1.7h-1.7zM194.1 136.1h1.7v1.7h-1.7zM188.6 143.5h1.7v1.7h-1.7zM197.6 126.9h1.7v1.7h-1.7zM196.2 135.7h1.7v1.7h-1.7zM195.1 138.3h1.7v1.7h-1.7zM190.4 134.5h1.7v1.7h-1.7zM198.4 133.5h1.7v1.7h-1.7zM192.4 128.4h1.7v1.7h-1.7zM190.8 137.6h1.7v1.7h-1.7zM198.2 139.0h1.7v1.7h-1.7zM193.3 148.4h1.7v1.7h-1.7zM193.3 132.3h1.7v1.7h-1.7zM195.2 139.3h1.7v1.7h-1.7zM192.3 129.4h1.7v1.7h-1.7zM194.7 137.6h1.7v1.7h-1.7zM190.9 134.6h1.7v1.7h-1.7zM192.4 138.5h1.7v1.7h-1.7zM193.9 135.6h1.7v1.7h-1.7zM192.5 141.8h1.7v1.7h-1.7zM198.0 134.6h1.7v1.7h-1.7zM196.8 132.3h1.7v1.7h-1.7zM193.8 140.3h1.7v1.7h-1.7zM198.3 134.5h1.7v1.7h-1.7zM193.8 137.2h1.7v1.7h-1.7zM190.3 135.8h1.7v1.7h-1.7zM192.2 138.0h1.7v1.7h-1.7zM192.5 125.0h1.7v1.7h-1.7zM194.1 137.6h1.7v1.7h-1.7zM192.1 140.8h1.7v1.7h-1.7zM193.8 132.8h1.7v1.7h-1.7zM196.4 127.7h1.7v1.7h-1.7zM192.4 135.8h1.7v1.7h-1.7zM196.4 135.5h1.7v1.7h-1.7zM195.4 132.7h1.7v1.7h-1.7zM193.8 145.3h1.7v1.7h-1.7zM190.8 148.9h1.7v1.7h-1.7zM192.5 136.0h1.7v1.7h-1.7zM193.9 141.8h1.7v1.7h-1.7zM192.3 124.3h1.7v1.7h-1.7zM195.2 140.7h1.7v1.7h-1.7zM194.0 150.7h1.7v1.7h-1.7zM194.5 137.6h1.7v1.7h-1.7zM196.3 138.5h1.7v1.7h-1.7zM199.3 129.9h1.7v1.7h-1.7zM195.4 117.2h1.7v1.7h-1.7zM196.5 134.4h1.7v1.7h-1.7zM195.1 148.2h1.7v1.7h-1.7zM194.3 134.8h1.7v1.7h-1.7zM193.4 131.4h1.7v1.7h-1.7zM192.1 139.4h1.7v1.7h-1.7zM194.2 136.5h1.7v1.7h-1.7zM193.1 141.1h1.7v1.7h-1.7zM195.5 135.5h1.7v1.7h-1.7zM196.0 135.5h1.7v1.7h-1.7zM190.2 143.7h1.7v1.7h-1.7zM196.0 131.1h1.7v1.7h-1.7zM196.7 138.4h1.7v1.7h-1.7zM189.1 144.5h1.7v1.7h-1.7zM194.4 141.1h1.7v1.7h-1.7zM194.8 135.4h1.7v1.7h-1.7zM189.5 141.0h1.7v1.7h-1.7zM194.4 134.6h1.7v1.7h-1.7zM195.0 136.7h1.7v1.7h-1.7zM193.0 111.7h1.7v1.7h-1.7zM197.3 110.7h1.7v1.7h-1.7zM197.3 114.6h1.7v1.7h-1.7zM193.0 114.6h1.7v1.7h-1.7zM193.0 117.0h1.7v1.7h-1.7zM187.2 117.0h1.7v1.7h-1.7zM189.7 117.0h1.7v1.7h-1.7zM198.8 117.0h1.7v1.7h-1.7zM187.2 122.2h1.7v1.7h-1.7zM200.7 121.8h1.7v1.7h-1.7zM201.5 121.0h1.7v1.7h-1.7zM195.8 118.4h1.7v1.7h-1.7zM193.7 119.2h1.7v1.7h-1.7zM194.7 120.7h1.7v1.7h-1.7zM191.7 120.7h1.7v1.7h-1.7zM196.2 122.2h1.7v1.7h-1.7zM183.3 125.2h1.7v1.7h-1.7zM184.8 127.1h1.7v1.7h-1.7zM184.3 130.0h1.7v1.7h-1.7zM188.2 130.0h1.7v1.7h-1.7zM175.7 130.0h1.7v1.7h-1.7zM171.3 130.8h1.7v1.7h-1.7zM172.8 121.2h1.7v1.7h-1.7zM187.2 108.8h1.7v1.7h-1.7zM185.3 144.3h1.7v1.7h-1.7zM186.2 149.2h1.7v1.7h-1.7zM185.8 153.0h1.7v1.7h-1.7zM186.8 138.6h1.7v1.7h-1.7zM186.7 126.2h1.7v1.7h-1.7zM188.2 125.2h1.7v1.7h-1.7zM189.7 124.2h1.7v1.7h-1.7zM190.7 127.2h1.7v1.7h-1.7zM182.2 127.7h1.7v1.7h-1.7zM200.7 133.2h1.7v1.7h-1.7zM201.7 133.7h1.7v1.7h-1.7zM199.7 139.7h1.7v1.7h-1.7zM200.2 140.7h1.7v1.7h-1.7zM187.2 141.2h1.7v1.7h-1.7zM186.7 146.2h1.7v1.7h-1.7zM177.2 110.7h1.7v1.7h-1.7zM178.7 110.2h1.7v1.7h-1.7zM182.2 110.7h1.7v1.7h-1.7zM183.7 111.7h1.7v1.7h-1.7zM174.2 124.7h1.7v1.7h-1.7zM175.2 125.7h1.7v1.7h-1.7zM180.2 126.7h1.7v1.7h-1.7zM199.2 125.7h1.7v1.7h-1.7zM198.7 127.2h1.7v1.7h-1.7z" fill="#000"/>
<ellipse cx="176.6" cy="215.8" rx="6.4" ry="5.6" transform="rotate(0 176.6 215.8)" fill="#000"/>
<ellipse cx="178" cy="209.5" rx="3.6" ry="5.5" transform="rotate(12 178 209.5)" fill="#000"/>
<path d="M178.3 212.2h1.7v1.7h-1.7zM176.0 205.5h1.7v1.7h-1.7zM174.8 216.2h1.7v1.7h-1.7zM180.4 212.3h1.7v1.7h-1.7zM175.8 219.7h1.7v1.7h-1.7zM175.1 216.4h1.7v1.7h-1.7zM181.5 213.8h1.7v1.7h-1.7zM180.1 211.0h1.7v1.7h-1.7zM176.8 213.4h1.7v1.7h-1.7zM176.5 217.9h1.7v1.7h-1.7zM183.8 211.1h1.7v1.7h-1.7zM174.3 215.5h1.7v1.7h-1.7zM172.8 215.5h1.7v1.7h-1.7zM178.0 212.6h1.7v1.7h-1.7zM177.8 207.8h1.7v1.7h-1.7zM178.6 207.8h1.7v1.7h-1.7zM173.9 211.5h1.7v1.7h-1.7zM174.9 216.9h1.7v1.7h-1.7zM176.4 212.1h1.7v1.7h-1.7zM177.9 219.7h1.7v1.7h-1.7zM176.2 215.0h1.7v1.7h-1.7zM180.1 214.7h1.7v1.7h-1.7zM172.0 223.1h1.7v1.7h-1.7zM183.2 206.1h1.7v1.7h-1.7zM176.0 215.2h1.7v1.7h-1.7zM179.2 216.2h1.7v1.7h-1.7zM175.3 209.6h1.7v1.7h-1.7zM176.5 217.6h1.7v1.7h-1.7zM172.7 209.7h1.7v1.7h-1.7zM176.1 206.3h1.7v1.7h-1.7zM175.3 212.0h1.7v1.7h-1.7zM177.6 211.0h1.7v1.7h-1.7zM173.3 212.2h1.7v1.7h-1.7zM176.0 211.1h1.7v1.7h-1.7zM176.2 216.5h1.7v1.7h-1.7zM179.9 220.1h1.7v1.7h-1.7zM173.6 212.1h1.7v1.7h-1.7zM168.2 220.9h1.7v1.7h-1.7zM173.8 213.5h1.7v1.7h-1.7zM177.8 208.5h1.7v1.7h-1.7zM177.6 213.5h1.7v1.7h-1.7zM170.3 214.8h1.7v1.7h-1.7zM180.0 206.6h1.7v1.7h-1.7zM178.7 214.4h1.7v1.7h-1.7zM177.7 215.3h1.7v1.7h-1.7zM180.3 212.8h1.7v1.7h-1.7zM178.9 212.1h1.7v1.7h-1.7zM178.5 210.6h1.7v1.7h-1.7zM175.8 220.2h1.7v1.7h-1.7zM177.6 213.0h1.7v1.7h-1.7zM172.5 210.6h1.7v1.7h-1.7zM176.8 217.2h1.7v1.7h-1.7zM177.5 215.6h1.7v1.7h-1.7zM176.0 218.8h1.7v1.7h-1.7zM174.9 211.6h1.7v1.7h-1.7zM179.0 213.9h1.7v1.7h-1.7zM175.3 211.5h1.7v1.7h-1.7zM175.3 216.0h1.7v1.7h-1.7zM177.3 209.1h1.7v1.7h-1.7zM177.5 214.3h1.7v1.7h-1.7zM172.9 216.6h1.7v1.7h-1.7zM175.3 212.4h1.7v1.7h-1.7zM178.7 218.7h1.7v1.7h-1.7zM173.9 215.3h1.7v1.7h-1.7zM173.3 222.4h1.7v1.7h-1.7zM174.6 218.2h1.7v1.7h-1.7zM174.1 216.7h1.7v1.7h-1.7zM183.3 204.0h1.7v1.7h-1.7zM174.8 215.6h1.7v1.7h-1.7zM175.9 211.1h1.7v1.7h-1.7zM183.0 214.0h1.7v1.7h-1.7zM170.9 216.9h1.7v1.7h-1.7zM170.6 218.0h1.7v1.7h-1.7zM174.3 214.2h1.7v1.7h-1.7zM180.2 214.1h1.7v1.7h-1.7zM171.7 207.2h1.7v1.7h-1.7zM179.9 216.5h1.7v1.7h-1.7zM173.5 216.9h1.7v1.7h-1.7zM177.7 216.1h1.7v1.7h-1.7zM168.9 212.5h1.7v1.7h-1.7zM179.0 216.4h1.7v1.7h-1.7zM179.0 204.3h1.7v1.7h-1.7zM176.7 215.5h1.7v1.7h-1.7zM184.3 210.0h1.7v1.7h-1.7zM175.1 213.8h1.7v1.7h-1.7zM179.0 212.0h1.7v1.7h-1.7zM179.8 210.7h1.7v1.7h-1.7zM177.0 211.6h1.7v1.7h-1.7zM176.7 211.0h1.7v1.7h-1.7zM171.0 217.8h1.7v1.7h-1.7zM177.1 211.5h1.7v1.7h-1.7zM176.8 217.4h1.7v1.7h-1.7zM173.0 213.2h1.7v1.7h-1.7zM177.9 215.6h1.7v1.7h-1.7zM175.1 205.6h1.7v1.7h-1.7zM180.1 214.9h1.7v1.7h-1.7zM176.2 212.6h1.7v1.7h-1.7zM177.0 212.0h1.7v1.7h-1.7zM172.9 210.8h1.7v1.7h-1.7zM174.2 211.3h1.7v1.7h-1.7zM172.4 216.1h1.7v1.7h-1.7zM172.0 216.2h1.7v1.7h-1.7zM172.9 215.0h1.7v1.7h-1.7zM180.5 214.4h1.7v1.7h-1.7zM173.8 213.8h1.7v1.7h-1.7zM176.6 207.1h1.7v1.7h-1.7zM174.2 214.3h1.7v1.7h-1.7zM174.6 214.0h1.7v1.7h-1.7zM178.5 216.6h1.7v1.7h-1.7zM179.0 215.9h1.7v1.7h-1.7zM175.2 213.6h1.7v1.7h-1.7zM175.3 212.5h1.7v1.7h-1.7zM175.6 207.1h1.7v1.7h-1.7zM175.1 213.6h1.7v1.7h-1.7zM173.0 213.6h1.7v1.7h-1.7zM177.8 213.0h1.7v1.7h-1.7zM182.8 203.7h1.7v1.7h-1.7zM175.5 206.7h1.7v1.7h-1.7zM179.3 223.7h1.7v1.7h-1.7zM168.1 214.1h1.7v1.7h-1.7zM177.8 212.5h1.7v1.7h-1.7zM177.9 205.1h1.7v1.7h-1.7zM178.9 215.1h1.7v1.7h-1.7zM176.2 211.4h1.7v1.7h-1.7zM178.2 211.8h1.7v1.7h-1.7zM176.9 211.7h1.7v1.7h-1.7zM169.0 213.5h1.7v1.7h-1.7zM176.8 216.5h1.7v1.7h-1.7zM173.3 213.5h1.7v1.7h-1.7zM178.1 214.2h1.7v1.7h-1.7zM180.1 221.2h1.7v1.7h-1.7zM173.2 206.4h1.7v1.7h-1.7zM178.9 219.5h1.7v1.7h-1.7zM179.1 216.7h1.7v1.7h-1.7zM174.2 210.9h1.7v1.7h-1.7zM179.0 210.2h1.7v1.7h-1.7zM170.3 209.9h1.7v1.7h-1.7zM184.1 221.0h1.7v1.7h-1.7zM174.0 210.9h1.7v1.7h-1.7zM176.9 210.8h1.7v1.7h-1.7zM180.3 213.4h1.7v1.7h-1.7zM172.7 218.6h1.7v1.7h-1.7zM174.3 214.5h1.7v1.7h-1.7zM176.1 212.5h1.7v1.7h-1.7zM177.2 211.0h1.7v1.7h-1.7zM170.2 205.3h1.7v1.7h-1.7zM172.1 210.8h1.7v1.7h-1.7zM176.1 213.9h1.7v1.7h-1.7zM177.9 214.1h1.7v1.7h-1.7zM173.6 211.0h1.7v1.7h-1.7zM188.0 219.5h1.7v1.7h-1.7zM193.7 222.3h1.7v1.7h-1.7zM192.4 219.5h1.7v1.7h-1.7zM194.7 220.2h1.7v1.7h-1.7zM194.3 222.5h1.7v1.7h-1.7zM193.1 225.4h1.7v1.7h-1.7zM191.4 218.7h1.7v1.7h-1.7zM190.9 217.0h1.7v1.7h-1.7zM196.1 227.2h1.7v1.7h-1.7zM192.7 222.4h1.7v1.7h-1.7zM195.2 223.4h1.7v1.7h-1.7zM195.3 215.1h1.7v1.7h-1.7zM191.2 222.0h1.7v1.7h-1.7zM195.8 220.6h1.7v1.7h-1.7zM190.8 218.7h1.7v1.7h-1.7zM191.2 216.7h1.7v1.7h-1.7zM196.0 217.6h1.7v1.7h-1.7zM192.7 228.8h1.7v1.7h-1.7zM195.3 221.5h1.7v1.7h-1.7zM191.3 221.8h1.7v1.7h-1.7zM196.2 222.6h1.7v1.7h-1.7zM195.4 220.5h1.7v1.7h-1.7zM193.8 219.3h1.7v1.7h-1.7zM193.6 225.4h1.7v1.7h-1.7zM189.5 219.9h1.7v1.7h-1.7zM193.2 217.9h1.7v1.7h-1.7zM192.0 223.3h1.7v1.7h-1.7zM197.1 222.7h1.7v1.7h-1.7zM193.4 213.9h1.7v1.7h-1.7zM196.9 220.5h1.7v1.7h-1.7zM194.3 208.8h1.7v1.7h-1.7zM194.2 208.9h1.7v1.7h-1.7zM193.6 220.7h1.7v1.7h-1.7zM193.6 219.3h1.7v1.7h-1.7zM188.8 227.4h1.7v1.7h-1.7zM192.1 203.3h1.7v1.7h-1.7zM193.4 211.4h1.7v1.7h-1.7zM189.4 214.0h1.7v1.7h-1.7zM195.8 208.5h1.7v1.7h-1.7zM192.0 227.7h1.7v1.7h-1.7zM196.8 216.3h1.7v1.7h-1.7zM194.3 216.3h1.7v1.7h-1.7zM192.9 222.6h1.7v1.7h-1.7zM195.0 199.2h1.7v1.7h-1.7zM194.2 210.5h1.7v1.7h-1.7zM197.0 212.9h1.7v1.7h-1.7zM192.7 233.5h1.7v1.7h-1.7zM189.8 208.3h1.7v1.7h-1.7zM189.1 198.6h1.7v1.7h-1.7zM185.0 219.0h1.7v1.7h-1.7zM192.2 202.9h1.7v1.7h-1.7zM186.5 221.1h1.7v1.7h-1.7zM190.5 214.1h1.7v1.7h-1.7zM194.1 227.4h1.7v1.7h-1.7zM201.6 225.7h1.7v1.7h-1.7zM194.2 218.6h1.7v1.7h-1.7zM200.6 228.6h1.7v1.7h-1.7zM191.9 220.4h1.7v1.7h-1.7zM194.9 217.7h1.7v1.7h-1.7zM192.4 207.0h1.7v1.7h-1.7zM192.4 205.4h1.7v1.7h-1.7zM198.7 221.7h1.7v1.7h-1.7zM187.2 227.0h1.7v1.7h-1.7zM199.1 203.3h1.7v1.7h-1.7zM201.3 224.0h1.7v1.7h-1.7zM203.8 208.9h1.7v1.7h-1.7zM195.7 220.5h1.7v1.7h-1.7zM194.4 218.5h1.7v1.7h-1.7zM199.5 206.5h1.7v1.7h-1.7zM189.1 206.2h1.7v1.7h-1.7zM191.6 212.4h1.7v1.7h-1.7zM195.1 219.3h1.7v1.7h-1.7zM194.3 212.1h1.7v1.7h-1.7zM191.0 224.1h1.7v1.7h-1.7zM197.0 218.2h1.7v1.7h-1.7zM187.8 198.2h1.7v1.7h-1.7zM192.0 199.8h1.7v1.7h-1.7zM202.6 199.8h1.7v1.7h-1.7zM196.2 203.0h1.7v1.7h-1.7zM202.6 203.5h1.7v1.7h-1.7zM199.3 206.7h1.7v1.7h-1.7zM190.8 207.7h1.7v1.7h-1.7zM195.2 208.8h1.7v1.7h-1.7zM194.1 211.3h1.7v1.7h-1.7zM186.7 214.1h1.7v1.7h-1.7zM190.8 214.6h1.7v1.7h-1.7zM198.3 215.7h1.7v1.7h-1.7zM203.6 216.7h1.7v1.7h-1.7zM194.1 217.8h1.7v1.7h-1.7zM190.8 219.8h1.7v1.7h-1.7zM196.2 219.8h1.7v1.7h-1.7zM184.6 219.8h1.7v1.7h-1.7zM190.8 223.1h1.7v1.7h-1.7zM194.1 223.1h1.7v1.7h-1.7zM199.3 223.1h1.7v1.7h-1.7zM202.6 223.1h1.7v1.7h-1.7zM186.7 224.1h1.7v1.7h-1.7zM196.2 225.2h1.7v1.7h-1.7zM183.5 226.8h1.7v1.7h-1.7zM188.8 227.2h1.7v1.7h-1.7zM193.1 227.8h1.7v1.7h-1.7zM198.3 228.8h1.7v1.7h-1.7zM190.8 230.5h1.7v1.7h-1.7zM193.1 231.0h1.7v1.7h-1.7zM170.8 223.1h1.7v1.7h-1.7zM176.1 222.0h1.7v1.7h-1.7zM197.2 206.2h1.7v1.7h-1.7zM198.2 207.7h1.7v1.7h-1.7zM195.2 213.2h1.7v1.7h-1.7zM192.2 216.2h1.7v1.7h-1.7zM194.2 220.2h1.7v1.7h-1.7zM191.7 225.2h1.7v1.7h-1.7z" fill="#000"/>
<ellipse cx="428.8" cy="66" rx="6.8" ry="8.4" transform="rotate(25 428.8 66)" fill="#000"/>
<path d="M423.6 70.3h1.7v1.7h-1.7zM424.7 66.2h1.7v1.7h-1.7zM432.6 65.7h1.7v1.7h-1.7zM433.4 61.6h1.7v1.7h-1.7zM431.1 67.3h1.7v1.7h-1.7zM421.4 64.5h1.7v1.7h-1.7zM422.3 68.2h1.7v1.7h-1.7zM426.2 62.7h1.7v1.7h-1.7zM429.8 63.8h1.7v1.7h-1.7zM430.2 62.9h1.7v1.7h-1.7zM430.4 65.9h1.7v1.7h-1.7zM434.9 53.9h1.7v1.7h-1.7zM432.0 66.9h1.7v1.7h-1.7zM422.0 61.8h1.7v1.7h-1.7zM427.3 69.8h1.7v1.7h-1.7zM421.1 68.9h1.7v1.7h-1.7zM422.3 74.0h1.7v1.7h-1.7zM426.2 67.1h1.7v1.7h-1.7zM429.4 59.5h1.7v1.7h-1.7zM429.8 70.3h1.7v1.7h-1.7zM431.4 70.9h1.7v1.7h-1.7zM429.9 56.9h1.7v1.7h-1.7zM427.5 60.7h1.7v1.7h-1.7zM424.1 65.5h1.7v1.7h-1.7zM429.8 64.2h1.7v1.7h-1.7zM429.0 64.4h1.7v1.7h-1.7zM427.2 68.1h1.7v1.7h-1.7zM432.9 63.6h1.7v1.7h-1.7zM420.0 67.7h1.7v1.7h-1.7zM426.1 69.3h1.7v1.7h-1.7zM423.4 60.3h1.7v1.7h-1.7zM431.4 58.9h1.7v1.7h-1.7zM424.8 66.6h1.7v1.7h-1.7zM428.2 73.1h1.7v1.7h-1.7zM428.4 57.4h1.7v1.7h-1.7zM427.8 69.4h1.7v1.7h-1.7zM431.7 59.7h1.7v1.7h-1.7zM429.0 69.3h1.7v1.7h-1.7zM431.1 63.7h1.7v1.7h-1.7zM427.4 68.4h1.7v1.7h-1.7zM430.4 56.2h1.7v1.7h-1.7zM428.2 67.2h1.7v1.7h-1.7zM426.2 68.3h1.7v1.7h-1.7zM426.4 63.2h1.7v1.7h-1.7zM425.9 66.4h1.7v1.7h-1.7zM434.0 66.5h1.7v1.7h-1.7zM431.6 74.6h1.7v1.7h-1.7zM429.5 68.5h1.7v1.7h-1.7zM434.5 67.1h1.7v1.7h-1.7zM430.1 60.2h1.7v1.7h-1.7zM426.8 70.9h1.7v1.7h-1.7zM429.0 67.3h1.7v1.7h-1.7zM427.1 65.0h1.7v1.7h-1.7zM421.1 66.3h1.7v1.7h-1.7zM429.2 59.4h1.7v1.7h-1.7zM427.5 60.0h1.7v1.7h-1.7zM428.7 70.5h1.7v1.7h-1.7zM421.6 65.9h1.7v1.7h-1.7zM432.4 63.9h1.7v1.7h-1.7zM424.8 58.9h1.7v1.7h-1.7zM425.3 64.9h1.7v1.7h-1.7zM431.4 55.8h1.7v1.7h-1.7zM432.3 58.9h1.7v1.7h-1.7zM433.8 61.4h1.7v1.7h-1.7zM427.7 59.9h1.7v1.7h-1.7zM423.5 68.9h1.7v1.7h-1.7zM429.7 68.6h1.7v1.7h-1.7zM432.6 59.0h1.7v1.7h-1.7zM427.6 61.5h1.7v1.7h-1.7zM423.8 64.9h1.7v1.7h-1.7zM427.2 60.4h1.7v1.7h-1.7zM429.2 54.4h1.7v1.7h-1.7zM427.2 71.1h1.7v1.7h-1.7zM430.9 61.0h1.7v1.7h-1.7zM431.6 68.1h1.7v1.7h-1.7zM428.0 72.3h1.7v1.7h-1.7zM432.9 64.9h1.7v1.7h-1.7zM429.9 69.7h1.7v1.7h-1.7zM423.9 60.2h1.7v1.7h-1.7zM423.6 61.6h1.7v1.7h-1.7zM432.4 61.4h1.7v1.7h-1.7zM426.2 71.3h1.7v1.7h-1.7zM421.4 66.5h1.7v1.7h-1.7zM430.6 76.5h1.7v1.7h-1.7zM426.9 65.4h1.7v1.7h-1.7zM425.4 68.4h1.7v1.7h-1.7zM431.4 66.9h1.7v1.7h-1.7zM422.0 65.2h1.7v1.7h-1.7zM425.2 66.3h1.7v1.7h-1.7zM425.4 71.7h1.7v1.7h-1.7zM432.9 64.9h1.7v1.7h-1.7zM425.4 72.4h1.7v1.7h-1.7zM425.4 65.4h1.7v1.7h-1.7zM429.3 71.9h1.7v1.7h-1.7zM432.8 60.3h1.7v1.7h-1.7zM423.4 63.4h1.7v1.7h-1.7zM423.8 75.6h1.7v1.7h-1.7zM422.8 67.7h1.7v1.7h-1.7zM434.4 59.3h1.7v1.7h-1.7zM425.1 63.8h1.7v1.7h-1.7zM426.8 63.1h1.7v1.7h-1.7zM431.5 62.2h1.7v1.7h-1.7zM431.1 62.9h1.7v1.7h-1.7zM425.1 65.8h1.7v1.7h-1.7zM425.6 64.8h1.7v1.7h-1.7zM433.4 67.7h1.7v1.7h-1.7zM426.0 67.4h1.7v1.7h-1.7zM424.5 68.4h1.7v1.7h-1.7zM422.5 64.8h1.7v1.7h-1.7zM428.2 60.5h1.7v1.7h-1.7zM435.9 64.4h1.7v1.7h-1.7zM432.6 70.5h1.7v1.7h-1.7zM435.1 63.4h1.7v1.7h-1.7zM428.9 72.7h1.7v1.7h-1.7zM428.0 63.9h1.7v1.7h-1.7zM435.9 69.8h1.7v1.7h-1.7zM428.1 61.3h1.7v1.7h-1.7zM428.9 66.8h1.7v1.7h-1.7zM424.9 71.9h1.7v1.7h-1.7zM426.0 66.0h1.7v1.7h-1.7zM435.2 63.3h1.7v1.7h-1.7zM427.6 73.9h1.7v1.7h-1.7zM426.1 57.8h1.7v1.7h-1.7zM428.8 55.3h1.7v1.7h-1.7zM433.8 58.0h1.7v1.7h-1.7zM426.6 71.4h1.7v1.7h-1.7zM423.5 60.4h1.7v1.7h-1.7zM420.0 64.3h1.7v1.7h-1.7zM426.3 62.2h1.7v1.7h-1.7zM427.1 66.9h1.7v1.7h-1.7zM427.0 64.1h1.7v1.7h-1.7zM426.1 64.1h1.7v1.7h-1.7zM424.1 62.8h1.7v1.7h-1.7zM422.8 59.2h1.7v1.7h-1.7zM434.4 68.5h1.7v1.7h-1.7zM423.4 63.4h1.7v1.7h-1.7zM428.5 56.2h1.7v1.7h-1.7zM424.1 66.3h1.7v1.7h-1.7zM429.6 65.0h1.7v1.7h-1.7zM427.4 58.6h1.7v1.7h-1.7zM432.1 68.1h1.7v1.7h-1.7zM429.6 54.4h1.7v1.7h-1.7zM424.5 62.2h1.7v1.7h-1.7zM429.2 64.4h1.7v1.7h-1.7zM430.3 58.6h1.7v1.7h-1.7zM420.9 69.6h1.7v1.7h-1.7zM423.8 66.7h1.7v1.7h-1.7zM423.1 60.5h1.7v1.7h-1.7zM426.7 69.3h1.7v1.7h-1.7zM423.1 65.0h1.7v1.7h-1.7zM431.1 62.4h1.7v1.7h-1.7zM431.7 61.9h1.7v1.7h-1.7zM425.5 63.1h1.7v1.7h-1.7zM419.3 59.3h1.7v1.7h-1.7zM428.0 56.9h1.7v1.7h-1.7zM425.0 67.0h1.7v1.7h-1.7zM424.0 69.0h1.7v1.7h-1.7zM427.2 57.2h1.7v1.7h-1.7zM432.4 69.1h1.7v1.7h-1.7zM433.1 63.0h1.7v1.7h-1.7zM430.3 67.2h1.7v1.7h-1.7zM430.3 65.9h1.7v1.7h-1.7zM433.6 64.2h1.7v1.7h-1.7zM428.2 56.9h1.7v1.7h-1.7zM433.6 63.8h1.7v1.7h-1.7zM426.7 59.0h1.7v1.7h-1.7zM429.5 58.7h1.7v1.7h-1.7zM428.6 61.6h1.7v1.7h-1.7zM428.4 59.8h1.7v1.7h-1.7zM429.3 62.9h1.7v1.7h-1.7zM428.0 65.9h1.7v1.7h-1.7zM434.1 56.4h1.7v1.7h-1.7zM428.1 60.5h1.7v1.7h-1.7zM434.2 59.7h1.7v1.7h-1.7zM426.4 62.2h1.7v1.7h-1.7zM424.8 68.0h1.7v1.7h-1.7zM424.5 67.7h1.7v1.7h-1.7zM427.3 54.7h1.7v1.7h-1.7zM431.3 68.6h1.7v1.7h-1.7zM429.5 66.0h1.7v1.7h-1.7zM432.4 60.6h1.7v1.7h-1.7zM432.5 64.2h1.7v1.7h-1.7zM431.2 66.8h1.7v1.7h-1.7zM424.4 55.9h1.7v1.7h-1.7zM432.2 66.2h1.7v1.7h-1.7zM426.3 64.9h1.7v1.7h-1.7zM427.9 61.7h1.7v1.7h-1.7zM428.2 65.4h1.7v1.7h-1.7zM433.1 67.6h1.7v1.7h-1.7zM430.4 75.4h1.7v1.7h-1.7zM431.5 72.1h1.7v1.7h-1.7zM428.3 65.4h1.7v1.7h-1.7zM429.3 61.4h1.7v1.7h-1.7zM429.3 61.9h1.7v1.7h-1.7zM432.4 69.8h1.7v1.7h-1.7zM430.9 56.1h1.7v1.7h-1.7zM428.9 62.9h1.7v1.7h-1.7zM427.0 58.1h1.7v1.7h-1.7zM419.4 62.8h1.7v1.7h-1.7zM422.2 74.9h1.7v1.7h-1.7zM428.4 64.0h1.7v1.7h-1.7zM432.7 67.8h1.7v1.7h-1.7zM429.5 63.5h1.7v1.7h-1.7zM422.8 69.6h1.7v1.7h-1.7zM427.7 73.4h1.7v1.7h-1.7zM426.9 64.1h1.7v1.7h-1.7zM423.1 66.9h1.7v1.7h-1.7zM422.3 64.4h1.7v1.7h-1.7zM428.7 72.3h1.7v1.7h-1.7zM422.6 67.3h1.7v1.7h-1.7zM427.4 60.3h1.7v1.7h-1.7zM421.2 66.9h1.7v1.7h-1.7zM435.0 65.3h1.7v1.7h-1.7zM426.4 61.9h1.7v1.7h-1.7zM434.3 73.3h1.7v1.7h-1.7zM430.3 56.4h1.7v1.7h-1.7zM423.3 68.2h1.7v1.7h-1.7zM428.8 66.2h1.7v1.7h-1.7zM422.4 65.4h1.7v1.7h-1.7zM419.4 70.3h1.7v1.7h-1.7zM421.4 70.9h1.7v1.7h-1.7zM419.9 62.7h1.7v1.7h-1.7zM424.9 64.5h1.7v1.7h-1.7zM426.1 67.2h1.7v1.7h-1.7zM421.2 69.3h1.7v1.7h-1.7zM426.3 60.5h1.7v1.7h-1.7zM428.7 68.9h1.7v1.7h-1.7zM426.1 60.6h1.7v1.7h-1.7zM422.4 65.9h1.7v1.7h-1.7zM426.8 62.0h1.7v1.7h-1.7zM421.9 60.0h1.7v1.7h-1.7zM423.5 68.4h1.7v1.7h-1.7zM419.9 65.1h1.7v1.7h-1.7zM425.4 72.7h1.7v1.7h-1.7zM425.8 66.1h1.7v1.7h-1.7zM421.2 63.9h1.7v1.7h-1.7zM422.5 67.7h1.7v1.7h-1.7zM424.0 73.0h1.7v1.7h-1.7zM424.9 63.4h1.7v1.7h-1.7zM428.0 70.5h1.7v1.7h-1.7zM424.4 64.6h1.7v1.7h-1.7zM419.5 63.6h1.7v1.7h-1.7zM426.4 64.3h1.7v1.7h-1.7zM420.9 67.8h1.7v1.7h-1.7zM424.8 69.3h1.7v1.7h-1.7zM425.8 72.1h1.7v1.7h-1.7zM422.1 70.6h1.7v1.7h-1.7zM421.7 69.6h1.7v1.7h-1.7zM424.6 68.0h1.7v1.7h-1.7zM426.6 67.1h1.7v1.7h-1.7zM426.9 70.2h1.7v1.7h-1.7zM424.5 65.2h1.7v1.7h-1.7zM422.3 65.3h1.7v1.7h-1.7zM423.6 67.1h1.7v1.7h-1.7zM431.6 69.4h1.7v1.7h-1.7zM426.1 64.1h1.7v1.7h-1.7zM422.4 66.0h1.7v1.7h-1.7zM448.3 40.9h1.7v1.7h-1.7zM427.5 46.0h1.7v1.7h-1.7zM436.1 46.6h1.7v1.7h-1.7zM447.1 48.9h1.7v1.7h-1.7zM462.1 47.9h1.7v1.7h-1.7zM473.1 48.9h1.7v1.7h-1.7zM475.4 44.9h1.7v1.7h-1.7zM475.4 52.9h1.7v1.7h-1.7zM448.3 53.5h1.7v1.7h-1.7zM455.8 52.9h1.7v1.7h-1.7zM421.8 54.1h1.7v1.7h-1.7zM437.9 52.9h1.7v1.7h-1.7zM440.2 57.6h1.7v1.7h-1.7zM443.6 57.6h1.7v1.7h-1.7zM444.8 60.4h1.7v1.7h-1.7zM450.0 61.6h1.7v1.7h-1.7zM459.8 59.4h1.7v1.7h-1.7zM446.5 64.6h1.7v1.7h-1.7zM449.4 66.9h1.7v1.7h-1.7zM466.1 68.6h1.7v1.7h-1.7zM473.1 73.8h1.7v1.7h-1.7zM435.6 72.7h1.7v1.7h-1.7zM433.3 76.1h1.7v1.7h-1.7zM441.6 59.1h1.7v1.7h-1.7zM442.6 58.1h1.7v1.7h-1.7zM450.6 61.6h1.7v1.7h-1.7zM452.2 8.8h1.7v1.7h-1.7zM453.1 10.1h1.7v1.7h-1.7zM457.2 12.6h1.7v1.7h-1.7zM461.6 8.2h1.7v1.7h-1.7zM462.9 7.6h1.7v1.7h-1.7zM463.6 8.0h1.7v1.7h-1.7zM466.0 10.1h1.7v1.7h-1.7zM472.9 7.6h1.7v1.7h-1.7zM474.1 11.2h1.7v1.7h-1.7zM477.2 8.0h1.7v1.7h-1.7zM478.9 7.6h1.7v1.7h-1.7zM479.6 7.8h1.7v1.7h-1.7zM447.9 16.2h1.7v1.7h-1.7zM484.8 31.9h1.7v1.7h-1.7zM467.6 35.0h1.7v1.7h-1.7zM440.4 38.8h1.7v1.7h-1.7zM448.1 41.2h1.7v1.7h-1.7zM475.4 45.0h1.7v1.7h-1.7zM477.9 43.8h1.7v1.7h-1.7zM480.4 45.0h1.7v1.7h-1.7zM446.6 48.8h1.7v1.7h-1.7zM462.2 47.5h1.7v1.7h-1.7zM472.9 48.8h1.7v1.7h-1.7z" fill="#000"/>
<ellipse cx="474" cy="132.5" rx="6.8" ry="6.2" transform="rotate(0 474 132.5)" fill="#000"/>
<ellipse cx="427.5" cy="147.5" rx="3.6" ry="2.4" transform="rotate(-35 427.5 147.5)" fill="#000"/>
<path d="M474.0 127.3h1.7v1.7h-1.7zM480.6 129.3h1.7v1.7h-1.7zM478.1 121.8h1.7v1.7h-1.7zM473.1 132.8h1.7v1.7h-1.7zM474.0 134.2h1.7v1.7h-1.7zM474.4 132.3h1.7v1.7h-1.7zM464.4 128.7h1.7v1.7h-1.7zM462.4 134.3h1.7v1.7h-1.7zM474.6 130.8h1.7v1.7h-1.7zM469.4 129.2h1.7v1.7h-1.7zM481.6 138.9h1.7v1.7h-1.7zM472.9 137.1h1.7v1.7h-1.7zM465.8 123.5h1.7v1.7h-1.7zM470.9 128.0h1.7v1.7h-1.7zM470.6 132.4h1.7v1.7h-1.7zM487.1 128.9h1.7v1.7h-1.7zM473.4 132.8h1.7v1.7h-1.7zM473.0 135.6h1.7v1.7h-1.7zM481.3 126.4h1.7v1.7h-1.7zM473.9 130.5h1.7v1.7h-1.7zM474.8 125.2h1.7v1.7h-1.7zM465.1 121.9h1.7v1.7h-1.7zM475.6 132.5h1.7v1.7h-1.7zM473.5 121.7h1.7v1.7h-1.7zM471.4 128.5h1.7v1.7h-1.7zM466.6 127.8h1.7v1.7h-1.7zM476.4 133.9h1.7v1.7h-1.7zM473.0 133.8h1.7v1.7h-1.7zM470.4 131.9h1.7v1.7h-1.7zM473.3 134.0h1.7v1.7h-1.7zM472.8 131.0h1.7v1.7h-1.7zM472.5 128.9h1.7v1.7h-1.7zM483.4 133.8h1.7v1.7h-1.7zM475.1 141.3h1.7v1.7h-1.7zM479.6 125.1h1.7v1.7h-1.7zM476.3 135.2h1.7v1.7h-1.7zM481.8 137.2h1.7v1.7h-1.7zM476.7 126.7h1.7v1.7h-1.7zM469.1 132.8h1.7v1.7h-1.7zM475.5 127.4h1.7v1.7h-1.7zM471.4 130.0h1.7v1.7h-1.7zM473.4 133.1h1.7v1.7h-1.7zM471.8 126.5h1.7v1.7h-1.7zM478.9 138.4h1.7v1.7h-1.7zM472.7 136.0h1.7v1.7h-1.7zM475.2 134.4h1.7v1.7h-1.7zM475.4 128.4h1.7v1.7h-1.7zM475.8 135.9h1.7v1.7h-1.7zM469.0 139.9h1.7v1.7h-1.7zM482.8 139.3h1.7v1.7h-1.7zM482.3 134.8h1.7v1.7h-1.7zM471.6 129.1h1.7v1.7h-1.7zM469.4 132.1h1.7v1.7h-1.7zM473.0 134.5h1.7v1.7h-1.7zM463.9 141.4h1.7v1.7h-1.7zM483.6 131.5h1.7v1.7h-1.7zM476.3 133.6h1.7v1.7h-1.7zM474.4 130.8h1.7v1.7h-1.7zM472.6 128.2h1.7v1.7h-1.7zM474.0 131.5h1.7v1.7h-1.7zM474.6 128.1h1.7v1.7h-1.7zM473.3 131.9h1.7v1.7h-1.7zM475.9 127.2h1.7v1.7h-1.7zM475.1 135.8h1.7v1.7h-1.7zM475.9 130.1h1.7v1.7h-1.7zM470.9 130.7h1.7v1.7h-1.7zM476.5 138.2h1.7v1.7h-1.7zM472.4 129.0h1.7v1.7h-1.7zM474.9 132.5h1.7v1.7h-1.7zM469.0 128.6h1.7v1.7h-1.7zM472.7 134.5h1.7v1.7h-1.7zM467.7 127.4h1.7v1.7h-1.7zM475.4 126.5h1.7v1.7h-1.7zM473.7 133.1h1.7v1.7h-1.7zM472.6 127.4h1.7v1.7h-1.7zM472.9 130.3h1.7v1.7h-1.7zM474.7 128.1h1.7v1.7h-1.7zM478.2 124.6h1.7v1.7h-1.7zM472.3 131.7h1.7v1.7h-1.7zM477.6 129.1h1.7v1.7h-1.7zM475.7 129.3h1.7v1.7h-1.7zM476.5 138.9h1.7v1.7h-1.7zM471.3 133.5h1.7v1.7h-1.7zM468.9 135.7h1.7v1.7h-1.7zM478.7 131.8h1.7v1.7h-1.7zM467.9 133.3h1.7v1.7h-1.7zM478.4 136.2h1.7v1.7h-1.7zM476.9 124.0h1.7v1.7h-1.7zM470.0 137.6h1.7v1.7h-1.7zM467.5 136.4h1.7v1.7h-1.7zM481.8 134.8h1.7v1.7h-1.7zM478.3 130.3h1.7v1.7h-1.7zM467.5 131.2h1.7v1.7h-1.7zM472.2 131.5h1.7v1.7h-1.7zM476.4 131.0h1.7v1.7h-1.7zM474.0 133.4h1.7v1.7h-1.7zM473.1 139.4h1.7v1.7h-1.7zM475.2 132.0h1.7v1.7h-1.7zM472.2 129.0h1.7v1.7h-1.7zM479.3 132.3h1.7v1.7h-1.7zM468.2 129.3h1.7v1.7h-1.7zM472.5 129.8h1.7v1.7h-1.7zM478.1 126.8h1.7v1.7h-1.7zM475.4 132.3h1.7v1.7h-1.7zM467.7 131.8h1.7v1.7h-1.7zM472.7 133.8h1.7v1.7h-1.7zM471.1 132.9h1.7v1.7h-1.7zM465.5 127.1h1.7v1.7h-1.7zM476.8 136.0h1.7v1.7h-1.7zM473.1 129.1h1.7v1.7h-1.7zM478.1 122.9h1.7v1.7h-1.7zM469.5 134.5h1.7v1.7h-1.7zM476.2 127.3h1.7v1.7h-1.7zM464.5 137.7h1.7v1.7h-1.7zM473.9 127.9h1.7v1.7h-1.7zM473.4 135.4h1.7v1.7h-1.7zM461.2 136.3h1.7v1.7h-1.7zM476.6 122.9h1.7v1.7h-1.7zM476.7 124.2h1.7v1.7h-1.7zM478.4 133.3h1.7v1.7h-1.7zM483.5 129.1h1.7v1.7h-1.7zM473.2 136.0h1.7v1.7h-1.7zM470.2 128.7h1.7v1.7h-1.7zM471.4 131.3h1.7v1.7h-1.7zM468.2 133.7h1.7v1.7h-1.7zM475.6 132.0h1.7v1.7h-1.7zM481.0 130.3h1.7v1.7h-1.7zM479.2 129.4h1.7v1.7h-1.7zM476.6 123.5h1.7v1.7h-1.7zM474.1 130.9h1.7v1.7h-1.7zM470.9 129.1h1.7v1.7h-1.7zM471.6 128.6h1.7v1.7h-1.7zM463.1 129.1h1.7v1.7h-1.7zM470.6 129.4h1.7v1.7h-1.7zM468.3 131.1h1.7v1.7h-1.7zM476.8 130.6h1.7v1.7h-1.7zM470.9 137.4h1.7v1.7h-1.7zM477.6 135.5h1.7v1.7h-1.7zM478.5 130.3h1.7v1.7h-1.7zM472.6 136.3h1.7v1.7h-1.7zM470.6 131.1h1.7v1.7h-1.7zM474.9 133.2h1.7v1.7h-1.7zM471.9 135.8h1.7v1.7h-1.7zM472.3 134.7h1.7v1.7h-1.7zM478.1 134.4h1.7v1.7h-1.7zM476.5 126.8h1.7v1.7h-1.7zM467.1 129.1h1.7v1.7h-1.7zM475.3 138.0h1.7v1.7h-1.7zM467.5 132.9h1.7v1.7h-1.7zM469.2 128.6h1.7v1.7h-1.7zM471.9 134.6h1.7v1.7h-1.7zM474.1 136.6h1.7v1.7h-1.7zM468.6 135.4h1.7v1.7h-1.7zM477.4 131.9h1.7v1.7h-1.7zM475.3 129.3h1.7v1.7h-1.7zM468.1 129.9h1.7v1.7h-1.7zM470.2 143.8h1.7v1.7h-1.7zM470.9 138.6h1.7v1.7h-1.7zM474.1 133.0h1.7v1.7h-1.7zM476.6 128.4h1.7v1.7h-1.7zM477.4 133.2h1.7v1.7h-1.7zM466.2 134.2h1.7v1.7h-1.7zM475.7 133.6h1.7v1.7h-1.7zM480.4 129.9h1.7v1.7h-1.7zM475.5 134.8h1.7v1.7h-1.7zM469.0 136.7h1.7v1.7h-1.7zM466.5 126.2h1.7v1.7h-1.7zM475.6 127.1h1.7v1.7h-1.7zM472.6 124.7h1.7v1.7h-1.7zM473.5 126.9h1.7v1.7h-1.7zM474.7 125.2h1.7v1.7h-1.7zM475.2 130.5h1.7v1.7h-1.7zM473.4 131.4h1.7v1.7h-1.7zM473.8 126.1h1.7v1.7h-1.7zM461.4 131.8h1.7v1.7h-1.7zM468.8 129.7h1.7v1.7h-1.7zM475.1 123.3h1.7v1.7h-1.7zM469.6 129.1h1.7v1.7h-1.7zM468.3 133.0h1.7v1.7h-1.7zM472.5 128.2h1.7v1.7h-1.7zM468.6 135.0h1.7v1.7h-1.7zM470.1 134.1h1.7v1.7h-1.7zM475.2 123.7h1.7v1.7h-1.7zM468.2 131.7h1.7v1.7h-1.7zM474.7 134.9h1.7v1.7h-1.7zM476.8 136.0h1.7v1.7h-1.7zM471.4 130.8h1.7v1.7h-1.7zM476.7 129.9h1.7v1.7h-1.7zM478.0 125.0h1.7v1.7h-1.7zM476.2 130.9h1.7v1.7h-1.7zM464.1 135.8h1.7v1.7h-1.7zM474.6 131.7h1.7v1.7h-1.7zM468.2 129.7h1.7v1.7h-1.7zM480.1 128.2h1.7v1.7h-1.7zM457.2 128.1h1.7v1.7h-1.7zM467.6 131.1h1.7v1.7h-1.7zM471.3 127.8h1.7v1.7h-1.7zM469.3 136.1h1.7v1.7h-1.7zM466.5 139.9h1.7v1.7h-1.7zM470.6 127.1h1.7v1.7h-1.7zM476.8 134.0h1.7v1.7h-1.7zM468.4 134.8h1.7v1.7h-1.7zM464.7 127.8h1.7v1.7h-1.7zM478.3 130.6h1.7v1.7h-1.7zM467.2 133.8h1.7v1.7h-1.7zM477.4 131.6h1.7v1.7h-1.7zM464.8 130.2h1.7v1.7h-1.7zM475.1 134.9h1.7v1.7h-1.7zM481.7 130.6h1.7v1.7h-1.7zM470.9 131.5h1.7v1.7h-1.7zM478.7 127.7h1.7v1.7h-1.7zM479.2 120.1h1.7v1.7h-1.7zM476.8 128.8h1.7v1.7h-1.7zM475.3 134.5h1.7v1.7h-1.7zM467.7 131.3h1.7v1.7h-1.7zM474.3 134.1h1.7v1.7h-1.7zM468.9 127.5h1.7v1.7h-1.7zM464.3 142.3h1.7v1.7h-1.7zM472.3 130.7h1.7v1.7h-1.7zM466.3 135.6h1.7v1.7h-1.7zM470.7 137.7h1.7v1.7h-1.7zM477.1 131.7h1.7v1.7h-1.7zM476.5 127.0h1.7v1.7h-1.7zM471.7 129.2h1.7v1.7h-1.7zM467.3 131.7h1.7v1.7h-1.7zM472.5 137.7h1.7v1.7h-1.7zM457.7 128.8h1.7v1.7h-1.7zM468.9 129.7h1.7v1.7h-1.7zM475.1 133.3h1.7v1.7h-1.7zM473.3 129.7h1.7v1.7h-1.7zM475.4 133.2h1.7v1.7h-1.7zM464.7 130.5h1.7v1.7h-1.7zM466.8 126.7h1.7v1.7h-1.7zM473.8 131.9h1.7v1.7h-1.7zM473.7 128.0h1.7v1.7h-1.7zM472.2 127.8h1.7v1.7h-1.7zM474.9 134.5h1.7v1.7h-1.7zM481.2 137.0h1.7v1.7h-1.7zM469.4 129.7h1.7v1.7h-1.7zM468.8 132.9h1.7v1.7h-1.7zM482.3 134.6h1.7v1.7h-1.7zM463.0 126.4h1.7v1.7h-1.7zM467.2 133.8h1.7v1.7h-1.7zM473.2 132.9h1.7v1.7h-1.7zM481.3 128.2h1.7v1.7h-1.7zM469.3 139.9h1.7v1.7h-1.7zM474.7 128.4h1.7v1.7h-1.7zM463.8 125.2h1.7v1.7h-1.7zM461.9 131.9h1.7v1.7h-1.7zM473.4 135.8h1.7v1.7h-1.7zM472.5 128.7h1.7v1.7h-1.7zM469.7 139.6h1.7v1.7h-1.7zM465.0 132.4h1.7v1.7h-1.7zM473.3 134.2h1.7v1.7h-1.7zM471.3 133.7h1.7v1.7h-1.7zM476.9 131.0h1.7v1.7h-1.7zM471.0 130.9h1.7v1.7h-1.7zM468.7 130.8h1.7v1.7h-1.7zM471.8 132.5h1.7v1.7h-1.7zM479.3 137.1h1.7v1.7h-1.7zM471.1 134.2h1.7v1.7h-1.7zM474.5 134.8h1.7v1.7h-1.7zM473.2 132.8h1.7v1.7h-1.7zM471.0 128.4h1.7v1.7h-1.7zM477.2 137.1h1.7v1.7h-1.7zM476.2 133.5h1.7v1.7h-1.7zM474.4 129.8h1.7v1.7h-1.7zM464.9 134.4h1.7v1.7h-1.7zM474.1 129.3h1.7v1.7h-1.7zM468.7 137.0h1.7v1.7h-1.7zM464.9 139.0h1.7v1.7h-1.7zM476.1 141.6h1.7v1.7h-1.7zM469.8 131.6h1.7v1.7h-1.7zM470.8 132.3h1.7v1.7h-1.7zM472.2 128.5h1.7v1.7h-1.7zM478.1 128.4h1.7v1.7h-1.7zM470.8 134.0h1.7v1.7h-1.7zM470.7 129.8h1.7v1.7h-1.7zM474.8 130.1h1.7v1.7h-1.7zM467.4 131.2h1.7v1.7h-1.7zM472.1 138.8h1.7v1.7h-1.7zM468.1 135.7h1.7v1.7h-1.7zM469.5 130.2h1.7v1.7h-1.7zM471.6 132.8h1.7v1.7h-1.7zM477.1 139.0h1.7v1.7h-1.7zM470.2 137.2h1.7v1.7h-1.7zM477.7 135.1h1.7v1.7h-1.7zM469.7 135.4h1.7v1.7h-1.7zM472.7 133.1h1.7v1.7h-1.7zM471.9 134.4h1.7v1.7h-1.7zM478.3 136.4h1.7v1.7h-1.7zM472.2 135.8h1.7v1.7h-1.7zM479.8 127.7h1.7v1.7h-1.7zM479.9 126.0h1.7v1.7h-1.7zM475.6 134.1h1.7v1.7h-1.7zM480.0 132.8h1.7v1.7h-1.7zM470.9 128.3h1.7v1.7h-1.7zM467.4 134.9h1.7v1.7h-1.7zM472.1 128.6h1.7v1.7h-1.7zM475.6 128.4h1.7v1.7h-1.7zM426.6 143.9h1.7v1.7h-1.7zM438.2 144.2h1.7v1.7h-1.7zM425.5 140.0h1.7v1.7h-1.7zM430.3 143.7h1.7v1.7h-1.7zM431.6 144.9h1.7v1.7h-1.7zM429.8 147.6h1.7v1.7h-1.7zM432.7 142.6h1.7v1.7h-1.7zM426.7 143.8h1.7v1.7h-1.7zM429.5 139.2h1.7v1.7h-1.7zM427.1 142.4h1.7v1.7h-1.7zM425.2 149.4h1.7v1.7h-1.7zM429.1 144.3h1.7v1.7h-1.7zM429.4 137.6h1.7v1.7h-1.7zM429.5 145.2h1.7v1.7h-1.7zM430.1 138.9h1.7v1.7h-1.7zM432.2 143.0h1.7v1.7h-1.7zM436.4 144.0h1.7v1.7h-1.7zM435.4 149.0h1.7v1.7h-1.7zM428.3 142.9h1.7v1.7h-1.7zM426.0 142.3h1.7v1.7h-1.7zM425.3 138.8h1.7v1.7h-1.7zM429.7 145.6h1.7v1.7h-1.7zM432.1 140.6h1.7v1.7h-1.7zM433.0 138.7h1.7v1.7h-1.7zM424.9 139.1h1.7v1.7h-1.7zM424.8 143.8h1.7v1.7h-1.7zM435.6 141.9h1.7v1.7h-1.7zM426.2 148.4h1.7v1.7h-1.7zM430.4 142.3h1.7v1.7h-1.7zM428.6 143.2h1.7v1.7h-1.7zM423.8 140.5h1.7v1.7h-1.7zM431.3 148.0h1.7v1.7h-1.7zM433.8 139.8h1.7v1.7h-1.7zM426.0 145.4h1.7v1.7h-1.7zM433.1 142.9h1.7v1.7h-1.7zM427.7 146.6h1.7v1.7h-1.7zM429.4 146.1h1.7v1.7h-1.7zM424.8 141.0h1.7v1.7h-1.7zM430.8 146.1h1.7v1.7h-1.7zM424.9 146.6h1.7v1.7h-1.7zM431.6 140.9h1.7v1.7h-1.7zM430.7 151.5h1.7v1.7h-1.7zM434.1 145.0h1.7v1.7h-1.7zM428.9 151.1h1.7v1.7h-1.7zM422.2 146.8h1.7v1.7h-1.7zM434.4 146.1h1.7v1.7h-1.7zM424.5 144.6h1.7v1.7h-1.7zM426.2 138.2h1.7v1.7h-1.7zM432.5 144.1h1.7v1.7h-1.7zM428.6 146.8h1.7v1.7h-1.7zM432.5 143.1h1.7v1.7h-1.7zM433.9 147.1h1.7v1.7h-1.7zM427.7 145.8h1.7v1.7h-1.7zM429.2 148.3h1.7v1.7h-1.7zM428.6 146.5h1.7v1.7h-1.7zM429.8 144.0h1.7v1.7h-1.7zM435.2 139.7h1.7v1.7h-1.7zM435.8 143.0h1.7v1.7h-1.7zM433.6 140.4h1.7v1.7h-1.7zM433.9 144.0h1.7v1.7h-1.7zM427.5 146.4h1.7v1.7h-1.7zM428.6 144.4h1.7v1.7h-1.7zM432.4 138.9h1.7v1.7h-1.7zM426.3 143.5h1.7v1.7h-1.7zM430.3 145.7h1.7v1.7h-1.7zM436.1 140.7h1.7v1.7h-1.7zM429.4 141.0h1.7v1.7h-1.7zM433.8 146.5h1.7v1.7h-1.7zM430.2 135.4h1.7v1.7h-1.7zM435.4 146.4h1.7v1.7h-1.7zM429.3 138.0h1.7v1.7h-1.7zM429.2 146.5h1.7v1.7h-1.7zM429.1 140.9h1.7v1.7h-1.7zM427.8 149.0h1.7v1.7h-1.7zM427.1 151.4h1.7v1.7h-1.7zM429.8 144.9h1.7v1.7h-1.7zM423.2 145.8h1.7v1.7h-1.7zM428.8 138.4h1.7v1.7h-1.7zM433.9 135.2h1.7v1.7h-1.7zM424.9 147.3h1.7v1.7h-1.7zM432.3 145.0h1.7v1.7h-1.7zM427.4 144.5h1.7v1.7h-1.7zM427.2 143.1h1.7v1.7h-1.7zM421.8 153.1h1.7v1.7h-1.7zM430.3 144.0h1.7v1.7h-1.7zM427.4 146.4h1.7v1.7h-1.7zM429.0 144.0h1.7v1.7h-1.7zM429.8 136.7h1.7v1.7h-1.7zM428.0 140.6h1.7v1.7h-1.7zM430.9 149.1h1.7v1.7h-1.7zM425.1 146.5h1.7v1.7h-1.7zM428.8 148.2h1.7v1.7h-1.7zM422.5 141.9h1.7v1.7h-1.7zM430.3 141.9h1.7v1.7h-1.7zM430.1 147.9h1.7v1.7h-1.7zM425.3 145.3h1.7v1.7h-1.7zM430.5 144.9h1.7v1.7h-1.7zM429.3 148.3h1.7v1.7h-1.7zM436.4 137.5h1.7v1.7h-1.7zM431.8 133.7h1.7v1.7h-1.7zM433.5 139.8h1.7v1.7h-1.7zM429.0 142.9h1.7v1.7h-1.7zM424.5 142.2h1.7v1.7h-1.7zM430.2 148.7h1.7v1.7h-1.7zM432.6 140.4h1.7v1.7h-1.7zM425.9 143.5h1.7v1.7h-1.7zM428.3 152.1h1.7v1.7h-1.7zM431.7 142.9h1.7v1.7h-1.7zM425.5 142.5h1.7v1.7h-1.7zM435.3 143.1h1.7v1.7h-1.7zM427.6 149.2h1.7v1.7h-1.7zM426.4 148.6h1.7v1.7h-1.7zM424.9 145.3h1.7v1.7h-1.7zM431.7 144.1h1.7v1.7h-1.7zM431.2 139.4h1.7v1.7h-1.7zM437.3 144.0h1.7v1.7h-1.7zM430.0 145.5h1.7v1.7h-1.7zM426.1 145.6h1.7v1.7h-1.7zM424.6 147.6h1.7v1.7h-1.7zM432.4 147.4h1.7v1.7h-1.7zM434.1 144.1h1.7v1.7h-1.7zM427.4 144.4h1.7v1.7h-1.7zM428.4 145.6h1.7v1.7h-1.7zM423.7 151.0h1.7v1.7h-1.7zM422.6 146.5h1.7v1.7h-1.7zM428.3 142.7h1.7v1.7h-1.7zM434.9 139.8h1.7v1.7h-1.7zM437.0 143.6h1.7v1.7h-1.7zM428.1 146.5h1.7v1.7h-1.7zM433.1 140.1h1.7v1.7h-1.7zM428.4 142.4h1.7v1.7h-1.7zM428.7 143.0h1.7v1.7h-1.7zM431.3 146.7h1.7v1.7h-1.7zM434.4 141.1h1.7v1.7h-1.7zM431.5 146.0h1.7v1.7h-1.7zM426.1 141.9h1.7v1.7h-1.7zM431.3 138.8h1.7v1.7h-1.7zM430.6 139.2h1.7v1.7h-1.7zM433.7 136.8h1.7v1.7h-1.7zM435.0 146.2h1.7v1.7h-1.7zM428.5 150.6h1.7v1.7h-1.7zM422.9 141.3h1.7v1.7h-1.7zM433.1 144.3h1.7v1.7h-1.7zM423.6 137.6h1.7v1.7h-1.7zM428.4 143.4h1.7v1.7h-1.7zM427.2 144.3h1.7v1.7h-1.7zM421.7 146.9h1.7v1.7h-1.7zM438.5 144.0h1.7v1.7h-1.7zM426.5 143.1h1.7v1.7h-1.7zM432.6 146.1h1.7v1.7h-1.7zM429.5 139.1h1.7v1.7h-1.7zM430.0 144.1h1.7v1.7h-1.7zM436.5 144.0h1.7v1.7h-1.7zM433.3 146.2h1.7v1.7h-1.7zM430.7 149.4h1.7v1.7h-1.7zM428.4 146.3h1.7v1.7h-1.7zM430.7 139.4h1.7v1.7h-1.7zM423.3 141.0h1.7v1.7h-1.7zM429.6 143.6h1.7v1.7h-1.7zM436.5 135.5h1.7v1.7h-1.7zM429.9 138.3h1.7v1.7h-1.7zM435.7 132.1h1.7v1.7h-1.7zM443.0 136.6h1.7v1.7h-1.7zM432.4 131.4h1.7v1.7h-1.7zM434.6 134.9h1.7v1.7h-1.7zM435.6 129.0h1.7v1.7h-1.7zM436.4 127.5h1.7v1.7h-1.7zM439.7 132.4h1.7v1.7h-1.7zM443.1 138.7h1.7v1.7h-1.7zM434.9 133.3h1.7v1.7h-1.7zM439.8 134.6h1.7v1.7h-1.7zM432.9 137.3h1.7v1.7h-1.7zM435.6 136.9h1.7v1.7h-1.7zM440.3 129.9h1.7v1.7h-1.7zM436.3 134.0h1.7v1.7h-1.7zM429.5 142.8h1.7v1.7h-1.7zM438.2 132.3h1.7v1.7h-1.7zM433.1 131.9h1.7v1.7h-1.7zM438.8 137.3h1.7v1.7h-1.7zM439.3 137.6h1.7v1.7h-1.7zM427.4 138.1h1.7v1.7h-1.7zM436.9 132.4h1.7v1.7h-1.7zM429.5 135.2h1.7v1.7h-1.7zM436.5 126.1h1.7v1.7h-1.7zM430.4 132.2h1.7v1.7h-1.7zM436.2 136.5h1.7v1.7h-1.7zM432.6 125.4h1.7v1.7h-1.7zM438.9 127.7h1.7v1.7h-1.7zM438.8 139.7h1.7v1.7h-1.7zM432.7 129.5h1.7v1.7h-1.7zM432.4 132.5h1.7v1.7h-1.7zM432.3 134.6h1.7v1.7h-1.7zM439.6 132.1h1.7v1.7h-1.7zM439.3 145.2h1.7v1.7h-1.7zM433.5 136.0h1.7v1.7h-1.7zM438.2 135.4h1.7v1.7h-1.7zM436.4 135.4h1.7v1.7h-1.7zM442.6 128.2h1.7v1.7h-1.7zM433.8 136.8h1.7v1.7h-1.7zM432.8 134.0h1.7v1.7h-1.7zM437.6 133.7h1.7v1.7h-1.7zM437.5 136.5h1.7v1.7h-1.7zM432.2 129.6h1.7v1.7h-1.7zM437.8 129.9h1.7v1.7h-1.7zM438.0 128.1h1.7v1.7h-1.7zM438.7 132.7h1.7v1.7h-1.7zM424.4 135.2h1.7v1.7h-1.7zM436.5 140.3h1.7v1.7h-1.7zM433.0 140.6h1.7v1.7h-1.7zM440.6 132.0h1.7v1.7h-1.7zM436.8 130.0h1.7v1.7h-1.7zM436.7 133.9h1.7v1.7h-1.7zM439.2 134.3h1.7v1.7h-1.7zM433.7 131.5h1.7v1.7h-1.7zM435.6 135.8h1.7v1.7h-1.7zM428.0 133.4h1.7v1.7h-1.7zM433.5 132.5h1.7v1.7h-1.7zM428.4 125.6h1.7v1.7h-1.7zM434.5 133.2h1.7v1.7h-1.7zM433.3 125.1h1.7v1.7h-1.7zM436.5 135.4h1.7v1.7h-1.7zM440.7 135.6h1.7v1.7h-1.7zM436.5 127.3h1.7v1.7h-1.7zM437.1 130.5h1.7v1.7h-1.7zM437.8 139.9h1.7v1.7h-1.7zM432.1 132.1h1.7v1.7h-1.7zM432.7 131.5h1.7v1.7h-1.7zM440.1 131.8h1.7v1.7h-1.7zM441.3 131.0h1.7v1.7h-1.7zM437.1 137.9h1.7v1.7h-1.7zM433.0 133.3h1.7v1.7h-1.7zM435.8 133.7h1.7v1.7h-1.7zM438.1 128.3h1.7v1.7h-1.7zM437.1 132.2h1.7v1.7h-1.7zM429.6 132.9h1.7v1.7h-1.7zM436.6 134.9h1.7v1.7h-1.7zM438.3 133.8h1.7v1.7h-1.7zM435.1 131.6h1.7v1.7h-1.7zM434.8 129.0h1.7v1.7h-1.7zM431.3 135.5h1.7v1.7h-1.7zM430.6 135.1h1.7v1.7h-1.7zM432.5 133.3h1.7v1.7h-1.7zM433.9 130.8h1.7v1.7h-1.7zM430.4 128.9h1.7v1.7h-1.7zM434.3 130.1h1.7v1.7h-1.7zM430.0 123.4h1.7v1.7h-1.7zM434.4 135.9h1.7v1.7h-1.7zM428.0 138.1h1.7v1.7h-1.7zM436.7 133.2h1.7v1.7h-1.7zM432.3 137.6h1.7v1.7h-1.7zM434.1 129.8h1.7v1.7h-1.7zM438.2 131.1h1.7v1.7h-1.7zM435.0 131.7h1.7v1.7h-1.7zM438.0 132.1h1.7v1.7h-1.7zM440.7 131.7h1.7v1.7h-1.7zM433.7 134.0h1.7v1.7h-1.7zM437.9 129.7h1.7v1.7h-1.7zM438.6 133.8h1.7v1.7h-1.7zM429.5 126.4h1.7v1.7h-1.7zM437.1 133.5h1.7v1.7h-1.7zM434.6 130.5h1.7v1.7h-1.7zM439.4 129.7h1.7v1.7h-1.7zM432.4 132.5h1.7v1.7h-1.7zM434.4 128.9h1.7v1.7h-1.7zM438.4 141.9h1.7v1.7h-1.7zM442.8 133.2h1.7v1.7h-1.7zM441.7 131.6h1.7v1.7h-1.7zM434.3 141.1h1.7v1.7h-1.7zM441.1 131.6h1.7v1.7h-1.7zM443.7 132.8h1.7v1.7h-1.7zM459.8 127.7h1.7v1.7h-1.7zM453.8 131.4h1.7v1.7h-1.7zM452.7 132.3h1.7v1.7h-1.7zM453.5 131.2h1.7v1.7h-1.7zM453.6 124.9h1.7v1.7h-1.7zM448.3 138.4h1.7v1.7h-1.7zM454.5 133.0h1.7v1.7h-1.7zM458.7 134.1h1.7v1.7h-1.7zM455.8 127.4h1.7v1.7h-1.7zM453.2 123.6h1.7v1.7h-1.7zM452.2 131.8h1.7v1.7h-1.7zM442.7 129.7h1.7v1.7h-1.7zM457.1 133.0h1.7v1.7h-1.7zM448.7 127.3h1.7v1.7h-1.7zM444.1 126.2h1.7v1.7h-1.7zM455.7 135.2h1.7v1.7h-1.7zM447.6 133.2h1.7v1.7h-1.7zM455.2 127.7h1.7v1.7h-1.7zM463.8 121.8h1.7v1.7h-1.7zM452.8 129.8h1.7v1.7h-1.7zM463.5 134.4h1.7v1.7h-1.7zM464.1 129.5h1.7v1.7h-1.7zM457.9 133.1h1.7v1.7h-1.7zM455.6 130.2h1.7v1.7h-1.7zM452.3 128.0h1.7v1.7h-1.7zM447.2 134.8h1.7v1.7h-1.7zM451.0 123.1h1.7v1.7h-1.7zM454.4 129.1h1.7v1.7h-1.7zM454.0 134.4h1.7v1.7h-1.7zM452.6 128.4h1.7v1.7h-1.7zM449.5 129.1h1.7v1.7h-1.7zM451.0 129.7h1.7v1.7h-1.7zM468.3 130.3h1.7v1.7h-1.7zM449.0 134.8h1.7v1.7h-1.7zM449.3 94.1h1.7v1.7h-1.7zM452.6 93.2h1.7v1.7h-1.7zM451.8 98.2h1.7v1.7h-1.7zM466.5 94.1h1.7v1.7h-1.7zM468.1 93.2h1.7v1.7h-1.7zM471.4 94.1h1.7v1.7h-1.7zM482.0 94.9h1.7v1.7h-1.7zM441.2 104.7h1.7v1.7h-1.7zM459.9 108.0h1.7v1.7h-1.7zM467.3 110.4h1.7v1.7h-1.7zM475.5 108.0h1.7v1.7h-1.7zM454.2 112.9h1.7v1.7h-1.7zM464.9 118.6h1.7v1.7h-1.7zM480.4 120.2h1.7v1.7h-1.7zM424.0 156.2h1.7v1.7h-1.7zM420.8 130.0h1.7v1.7h-1.7zM446.1 124.2h1.7v1.7h-1.7zM448.1 136.2h1.7v1.7h-1.7zM451.1 139.2h1.7v1.7h-1.7zM445.1 141.2h1.7v1.7h-1.7z" fill="#000"/>
<ellipse cx="433.2" cy="233.5" rx="6.4" ry="8" transform="rotate(30 433.2 233.5)" fill="#000"/>
<path d="M433.7 236.9h1.7v1.7h-1.7zM433.2 236.6h1.7v1.7h-1.7zM431.8 238.9h1.7v1.7h-1.7zM433.0 239.2h1.7v1.7h-1.7zM431.0 231.3h1.7v1.7h-1.7zM428.2 234.6h1.7v1.7h-1.7zM436.3 231.8h1.7v1.7h-1.7zM428.9 243.5h1.7v1.7h-1.7zM439.1 230.0h1.7v1.7h-1.7zM431.0 234.5h1.7v1.7h-1.7zM431.7 233.6h1.7v1.7h-1.7zM435.8 235.5h1.7v1.7h-1.7zM427.6 233.0h1.7v1.7h-1.7zM432.1 232.4h1.7v1.7h-1.7zM433.8 225.7h1.7v1.7h-1.7zM429.4 228.5h1.7v1.7h-1.7zM435.0 219.6h1.7v1.7h-1.7zM438.9 229.6h1.7v1.7h-1.7zM429.2 233.0h1.7v1.7h-1.7zM421.9 233.1h1.7v1.7h-1.7zM428.7 233.4h1.7v1.7h-1.7zM430.4 232.5h1.7v1.7h-1.7zM433.0 232.3h1.7v1.7h-1.7zM429.9 223.1h1.7v1.7h-1.7zM429.5 237.6h1.7v1.7h-1.7zM429.7 233.3h1.7v1.7h-1.7zM432.1 234.3h1.7v1.7h-1.7zM439.1 228.0h1.7v1.7h-1.7zM433.9 231.9h1.7v1.7h-1.7zM433.5 228.2h1.7v1.7h-1.7zM432.3 226.7h1.7v1.7h-1.7zM423.7 240.1h1.7v1.7h-1.7zM438.2 235.2h1.7v1.7h-1.7zM437.2 229.6h1.7v1.7h-1.7zM427.5 220.0h1.7v1.7h-1.7zM430.0 238.1h1.7v1.7h-1.7zM434.7 228.1h1.7v1.7h-1.7zM434.0 227.8h1.7v1.7h-1.7zM428.6 228.8h1.7v1.7h-1.7zM433.1 228.2h1.7v1.7h-1.7zM431.8 226.9h1.7v1.7h-1.7zM430.4 238.1h1.7v1.7h-1.7zM427.2 240.6h1.7v1.7h-1.7zM426.8 230.4h1.7v1.7h-1.7zM429.2 229.5h1.7v1.7h-1.7zM431.8 234.5h1.7v1.7h-1.7zM437.5 232.0h1.7v1.7h-1.7zM429.0 229.2h1.7v1.7h-1.7zM435.1 229.9h1.7v1.7h-1.7zM431.9 240.4h1.7v1.7h-1.7zM427.2 231.1h1.7v1.7h-1.7zM440.1 226.4h1.7v1.7h-1.7zM433.8 231.6h1.7v1.7h-1.7zM425.2 234.8h1.7v1.7h-1.7zM434.4 230.7h1.7v1.7h-1.7zM432.7 235.5h1.7v1.7h-1.7zM433.9 235.8h1.7v1.7h-1.7zM436.5 228.2h1.7v1.7h-1.7zM431.0 231.9h1.7v1.7h-1.7zM433.7 227.3h1.7v1.7h-1.7zM426.2 229.9h1.7v1.7h-1.7zM434.0 229.9h1.7v1.7h-1.7zM433.2 227.9h1.7v1.7h-1.7zM430.4 230.4h1.7v1.7h-1.7zM429.1 233.7h1.7v1.7h-1.7zM431.9 232.4h1.7v1.7h-1.7zM431.2 237.9h1.7v1.7h-1.7zM434.1 234.1h1.7v1.7h-1.7zM433.9 228.7h1.7v1.7h-1.7zM430.1 234.2h1.7v1.7h-1.7zM434.2 231.0h1.7v1.7h-1.7zM431.6 223.8h1.7v1.7h-1.7zM431.5 236.8h1.7v1.7h-1.7zM436.8 227.4h1.7v1.7h-1.7zM431.5 232.6h1.7v1.7h-1.7zM428.9 231.9h1.7v1.7h-1.7zM433.8 228.5h1.7v1.7h-1.7zM426.9 233.1h1.7v1.7h-1.7zM435.7 229.3h1.7v1.7h-1.7zM427.4 233.9h1.7v1.7h-1.7zM435.2 232.0h1.7v1.7h-1.7zM438.4 233.8h1.7v1.7h-1.7zM426.9 234.6h1.7v1.7h-1.7zM431.3 233.2h1.7v1.7h-1.7zM434.9 228.3h1.7v1.7h-1.7zM429.2 229.3h1.7v1.7h-1.7zM439.4 230.7h1.7v1.7h-1.7zM436.6 235.4h1.7v1.7h-1.7zM428.5 231.2h1.7v1.7h-1.7zM436.4 229.6h1.7v1.7h-1.7zM425.0 229.8h1.7v1.7h-1.7zM428.1 231.9h1.7v1.7h-1.7zM426.7 228.2h1.7v1.7h-1.7zM433.2 224.9h1.7v1.7h-1.7zM431.5 232.4h1.7v1.7h-1.7zM433.4 226.5h1.7v1.7h-1.7zM437.1 225.7h1.7v1.7h-1.7zM433.3 235.0h1.7v1.7h-1.7zM436.2 238.6h1.7v1.7h-1.7zM433.2 233.8h1.7v1.7h-1.7zM435.6 227.0h1.7v1.7h-1.7zM436.3 236.8h1.7v1.7h-1.7zM434.2 227.1h1.7v1.7h-1.7zM436.3 236.9h1.7v1.7h-1.7zM427.4 232.7h1.7v1.7h-1.7zM438.8 235.4h1.7v1.7h-1.7zM434.8 231.2h1.7v1.7h-1.7zM428.3 235.2h1.7v1.7h-1.7zM442.4 238.1h1.7v1.7h-1.7zM430.5 235.0h1.7v1.7h-1.7zM430.1 234.5h1.7v1.7h-1.7zM437.5 229.6h1.7v1.7h-1.7zM429.3 230.0h1.7v1.7h-1.7zM434.8 234.7h1.7v1.7h-1.7zM439.6 228.9h1.7v1.7h-1.7zM435.6 230.6h1.7v1.7h-1.7zM432.3 233.6h1.7v1.7h-1.7zM430.0 229.5h1.7v1.7h-1.7zM428.3 231.1h1.7v1.7h-1.7zM431.0 228.7h1.7v1.7h-1.7zM434.8 230.0h1.7v1.7h-1.7zM437.7 231.7h1.7v1.7h-1.7zM434.8 234.8h1.7v1.7h-1.7zM429.8 229.5h1.7v1.7h-1.7zM430.7 229.3h1.7v1.7h-1.7zM427.9 238.8h1.7v1.7h-1.7zM427.9 237.6h1.7v1.7h-1.7zM436.9 227.8h1.7v1.7h-1.7zM423.7 230.7h1.7v1.7h-1.7zM424.7 231.4h1.7v1.7h-1.7zM435.1 235.5h1.7v1.7h-1.7zM432.5 230.8h1.7v1.7h-1.7zM434.1 231.4h1.7v1.7h-1.7zM431.7 229.8h1.7v1.7h-1.7zM437.8 231.8h1.7v1.7h-1.7zM436.3 228.3h1.7v1.7h-1.7zM433.3 225.5h1.7v1.7h-1.7zM430.6 234.5h1.7v1.7h-1.7zM434.7 230.8h1.7v1.7h-1.7zM435.4 231.9h1.7v1.7h-1.7zM433.3 233.9h1.7v1.7h-1.7zM439.7 223.4h1.7v1.7h-1.7zM426.8 232.9h1.7v1.7h-1.7zM427.5 240.7h1.7v1.7h-1.7zM433.1 229.6h1.7v1.7h-1.7zM436.3 237.0h1.7v1.7h-1.7zM437.7 237.5h1.7v1.7h-1.7zM430.4 234.6h1.7v1.7h-1.7zM431.1 229.0h1.7v1.7h-1.7zM431.3 230.3h1.7v1.7h-1.7zM436.2 231.6h1.7v1.7h-1.7zM434.8 230.8h1.7v1.7h-1.7zM441.4 222.9h1.7v1.7h-1.7zM431.6 232.4h1.7v1.7h-1.7zM427.0 234.2h1.7v1.7h-1.7zM430.6 237.5h1.7v1.7h-1.7zM434.4 236.3h1.7v1.7h-1.7zM434.5 227.6h1.7v1.7h-1.7zM432.9 230.0h1.7v1.7h-1.7zM434.4 230.8h1.7v1.7h-1.7zM445.9 231.3h1.7v1.7h-1.7zM437.4 232.4h1.7v1.7h-1.7zM429.9 235.3h1.7v1.7h-1.7zM435.2 227.4h1.7v1.7h-1.7zM434.4 232.1h1.7v1.7h-1.7zM425.6 229.3h1.7v1.7h-1.7zM430.8 227.4h1.7v1.7h-1.7zM433.6 234.2h1.7v1.7h-1.7zM427.1 240.1h1.7v1.7h-1.7zM435.3 230.5h1.7v1.7h-1.7zM433.7 232.1h1.7v1.7h-1.7zM428.9 222.1h1.7v1.7h-1.7zM423.8 237.8h1.7v1.7h-1.7zM432.6 230.7h1.7v1.7h-1.7zM428.7 235.0h1.7v1.7h-1.7zM429.1 238.8h1.7v1.7h-1.7zM431.7 239.9h1.7v1.7h-1.7zM431.5 233.4h1.7v1.7h-1.7zM431.6 230.7h1.7v1.7h-1.7zM428.3 226.8h1.7v1.7h-1.7zM431.0 227.9h1.7v1.7h-1.7zM436.0 235.3h1.7v1.7h-1.7zM434.8 237.6h1.7v1.7h-1.7zM433.5 237.7h1.7v1.7h-1.7zM429.0 234.2h1.7v1.7h-1.7zM432.7 229.5h1.7v1.7h-1.7zM431.9 242.7h1.7v1.7h-1.7zM425.8 237.2h1.7v1.7h-1.7zM437.1 230.3h1.7v1.7h-1.7zM432.7 234.1h1.7v1.7h-1.7zM434.6 231.4h1.7v1.7h-1.7zM428.5 230.0h1.7v1.7h-1.7zM433.8 236.7h1.7v1.7h-1.7zM432.4 237.6h1.7v1.7h-1.7zM429.6 230.2h1.7v1.7h-1.7zM431.6 236.6h1.7v1.7h-1.7zM432.1 234.4h1.7v1.7h-1.7zM428.6 240.5h1.7v1.7h-1.7zM425.7 228.2h1.7v1.7h-1.7zM452.6 182.1h1.7v1.7h-1.7zM458.3 181.2h1.7v1.7h-1.7zM465.8 184.6h1.7v1.7h-1.7zM472.2 182.8h1.7v1.7h-1.7zM477.1 181.8h1.7v1.7h-1.7zM479.6 181.2h1.7v1.7h-1.7zM478.1 181.5h1.7v1.7h-1.7zM484.5 180.5h1.7v1.7h-1.7zM463.2 189.5h1.7v1.7h-1.7zM454.2 194.8h1.7v1.7h-1.7zM463.2 200.1h1.7v1.7h-1.7zM460.8 215.6h1.7v1.7h-1.7zM474.8 207.8h1.7v1.7h-1.7zM471.4 212.2h1.7v1.7h-1.7zM473.8 210.7h1.7v1.7h-1.7zM482.0 210.7h1.7v1.7h-1.7zM480.4 213.2h1.7v1.7h-1.7zM476.3 214.8h1.7v1.7h-1.7zM471.4 218.0h1.7v1.7h-1.7zM475.5 218.8h1.7v1.7h-1.7zM481.2 217.2h1.7v1.7h-1.7zM471.4 221.2h1.7v1.7h-1.7zM475.5 221.2h1.7v1.7h-1.7zM480.4 220.5h1.7v1.7h-1.7zM483.6 229.5h1.7v1.7h-1.7zM451.8 225.3h1.7v1.7h-1.7zM454.2 226.2h1.7v1.7h-1.7zM451.0 229.5h1.7v1.7h-1.7zM458.3 230.2h1.7v1.7h-1.7zM452.6 231.8h1.7v1.7h-1.7zM459.1 233.6h1.7v1.7h-1.7zM450.1 235.2h1.7v1.7h-1.7zM452.6 237.7h1.7v1.7h-1.7zM444.4 235.2h1.7v1.7h-1.7zM446.1 225.3h1.7v1.7h-1.7zM442.0 221.2h1.7v1.7h-1.7zM477.1 248.2h1.7v1.7h-1.7zM444.6 234.2h1.7v1.7h-1.7z" fill="#000"/>
<polyline points="290.0,81.0 298.0,81.0 298.0,79.6 305.0,79.6 305.8,76.0 307.1,69.0 308.4,57.0 309.6,40.0 310.6,26.0 311.3,14.0 312.7,3.5 313.9,2.0 315.3,5.0 315.8,22.5 316.7,35.0 317.5,50.0 318.7,66.0 320.5,76.0 322.2,79.6 331.0,79.6 331.0,79.2 345.0,79.6 345.5,81.0 353.0,81.0 353.5,79.6 354.5,81.0 359.0,81.0 359.5,79.6 361.0,81.0 372.4,81.0" fill="none" stroke="#000" stroke-width="1.6" stroke-linejoin="round"/>
<polyline points="290.2,169.8 303.9,169.8 303.9,168.1 309.5,165.8 311.2,158.9 314.3,138.1 316.6,119.6 317.7,113.9 319.6,116.2 321.2,133.5 323.0,149.7 325.1,158.9 327.0,152.0 329.3,147.4 331.6,138.1 333.9,121.9 335.8,103.5 337.4,90.8 339.0,94.2 340.4,112.7 342.0,138.1 343.6,158.9 345.9,168.6 348.0,169.8 373.0,169.8" fill="none" stroke="#000" stroke-width="1.6" stroke-linejoin="round"/>
<polyline points="289.6,258.7 296.3,258.7 297.7,256.7 299.2,258.7 301.2,257.3 306.9,255.8 308.8,251.9 310.4,246.2 311.7,232.7 313.1,213.5 314.2,203.8 315.2,190.4 316.5,186.5 317.5,179.2 319.4,179.2 319.8,186.5 320.8,190.4 321.3,203.8 322.3,223.0 323.3,236.5 324.6,251.9 326.2,255.4 330.0,256.7 343.5,257.0 344.4,258.7 372.3,258.7" fill="none" stroke="#000" stroke-width="1.6" stroke-linejoin="round"/>
<polygon points="129,210.2 123.4,220.7 134.6,220.7" fill="#000"/>
<line x1="129" y1="219.7" x2="129" y2="249.3" stroke="#111" stroke-width="1.7"/>
<polygon points="179.6,272.2 168.8,267.2 168.8,277.2" fill="#000"/>
<line x1="149.3" y1="272.2" x2="169.8" y2="272.2" stroke="#111" stroke-width="1.7"/>
<polygon points="402.4,221.3 396.79999999999995,232 408.0,232" fill="#000"/>
<line x1="402.4" y1="231" x2="402.4" y2="260.9" stroke="#111" stroke-width="1.7"/>
<polygon points="442.7,270.4 432,265.4 432,275.4" fill="#000"/>
<line x1="412.9" y1="270.4" x2="433" y2="270.4" stroke="#111" stroke-width="1.7"/>
<polygon points="207.9,134.5 218.8,129.2 218.8,139.8" fill="#000"/>
<line x1="217.8" y1="134.5" x2="239.4" y2="134.5" stroke="#111" stroke-width="1.7"/>
<polygon points="342.5,110 353,104.7 353,115.3" fill="#000"/>
<line x1="352" y1="110" x2="373.5" y2="110" stroke="#111" stroke-width="1.7"/>
<polygon points="487.3,131.2 498,125.89999999999999 498,136.5" fill="#000"/>
<line x1="497" y1="131.2" x2="518.6" y2="131.2" stroke="#111" stroke-width="1.7"/>
<g font-family="Liberation Serif" fill="#000" stroke="#000" stroke-width="0.22">
<text transform="translate(129.2,371.7) scale(1.035,1)" font-size="14" text-anchor="end" >80</text>
<text transform="translate(129.2,412.9) scale(1.035,1)" font-size="14" text-anchor="end" >60</text>
<text transform="translate(129.2,453.9) scale(1.035,1)" font-size="14" text-anchor="end" >40</text>
<text transform="translate(129.2,494.9) scale(1.035,1)" font-size="14" text-anchor="end" >20</text>
<text transform="translate(129.2,536.1999999999999) scale(1.035,1)" font-size="14" text-anchor="end" >0</text>
<text transform="translate(130.2,565.5) scale(1.035,1)" font-size="14" text-anchor="end" >40</text>
<text transform="translate(130.2,602.1) scale(1.035,1)" font-size="14" text-anchor="end" >20</text>
<text transform="translate(130.2,637.9) scale(1.035,1)" font-size="14" text-anchor="end" >0</text>
<text transform="translate(161.10000000000002,657.4) scale(1.035,1)" font-size="14" text-anchor="middle" >0</text>
<text transform="translate(201.60000000000002,657.4) scale(1.035,1)" font-size="14" text-anchor="middle" >1</text>
<text transform="translate(241.8,657.4) scale(1.035,1)" font-size="14" text-anchor="middle" >2</text>
<text transform="translate(283.3,657.4) scale(1.035,1)" font-size="14" text-anchor="middle" >3</text>
<text transform="translate(324.3,657.4) scale(1.035,1)" font-size="14" text-anchor="middle" >4</text>
<text transform="translate(365.0,657.4) scale(1.035,1)" font-size="14" text-anchor="middle" >5</text>
<text transform="translate(406.2,657.4) scale(1.035,1)" font-size="14" text-anchor="middle" >6</text>
<text transform="translate(252.8,688.1) scale(1.035,1)" font-size="16.8" text-anchor="start" >hours</text>
<text transform="translate(170.8,437.2) scale(1.01,1)" font-size="17" text-anchor="start" >- oligomycin</text>
<text transform="translate(172.2,580.7) scale(1.0,1)" font-size="17" text-anchor="start" >+ oligomycin</text>
<text transform="translate(75.3,615.6) rotate(-90)" font-size="20">% of apoptotic cells</text>
</g>
<line x1="135" y1="366.8" x2="424.3" y2="366.8" stroke="#868686" stroke-width="1.8"/>
<line x1="135" y1="408" x2="424.3" y2="408" stroke="#868686" stroke-width="1.8"/>
<line x1="135" y1="449" x2="424.3" y2="449" stroke="#868686" stroke-width="1.8"/>
<line x1="135" y1="490" x2="424.3" y2="490" stroke="#868686" stroke-width="1.8"/>
<line x1="135" y1="531.3" x2="424.3" y2="531.3" stroke="#555" stroke-width="1.3"/>
<line x1="136.4" y1="560.6" x2="425.4" y2="560.6" stroke="#868686" stroke-width="1.8"/>
<line x1="136.4" y1="597.2" x2="425.4" y2="597.2" stroke="#868686" stroke-width="1.8"/>
<line x1="136.4" y1="632.9" x2="425" y2="632.9" stroke="#555" stroke-width="1.3"/>
<line x1="181.17" y1="632.9" x2="181.17" y2="637.3" stroke="#555" stroke-width="1.2"/>
<line x1="221.74" y1="632.9" x2="221.74" y2="637.3" stroke="#555" stroke-width="1.2"/>
<line x1="262.31" y1="632.9" x2="262.31" y2="637.3" stroke="#555" stroke-width="1.2"/>
<line x1="302.88" y1="632.9" x2="302.88" y2="637.3" stroke="#555" stroke-width="1.2"/>
<line x1="343.45" y1="632.9" x2="343.45" y2="637.3" stroke="#555" stroke-width="1.2"/>
<line x1="384.02" y1="632.9" x2="384.02" y2="637.3" stroke="#555" stroke-width="1.2"/>
<line x1="424.59000000000003" y1="632.9" x2="424.59000000000003" y2="637.3" stroke="#555" stroke-width="1.2"/>
<line x1="150.15" y1="527.3" x2="150.15" y2="522.7" stroke="#333" stroke-width="1.0"/>
<line x1="147.95000000000002" y1="522.7" x2="152.35" y2="522.7" stroke="#333" stroke-width="1.2"/>
<rect x="145.50" y="527.30" width="9.30" height="4.00" fill="#ffffff" stroke="#222" stroke-width="1.1"/>
<line x1="159.45000000000002" y1="525" x2="159.45000000000002" y2="522.7" stroke="#333" stroke-width="1.0"/>
<line x1="157.25000000000003" y1="522.7" x2="161.65" y2="522.7" stroke="#333" stroke-width="1.2"/>
<rect x="154.80" y="525.00" width="9.30" height="6.30" fill="#7d7d7d" stroke="#222" stroke-width="1.1"/>
<line x1="168.75" y1="527.8" x2="168.75" y2="520.4" stroke="#333" stroke-width="1.0"/>
<line x1="166.55" y1="520.4" x2="170.95" y2="520.4" stroke="#333" stroke-width="1.2"/>
<rect x="164.10" y="527.80" width="9.30" height="3.50" fill="#262626" stroke="#222" stroke-width="1.1"/>
<line x1="190.8" y1="527.3" x2="190.8" y2="522.7" stroke="#333" stroke-width="1.0"/>
<line x1="188.60000000000002" y1="522.7" x2="193.0" y2="522.7" stroke="#333" stroke-width="1.2"/>
<rect x="186.15" y="527.30" width="9.30" height="4.00" fill="#ffffff" stroke="#222" stroke-width="1.1"/>
<line x1="200.10000000000002" y1="520.8" x2="200.10000000000002" y2="519.2" stroke="#333" stroke-width="1.0"/>
<line x1="197.90000000000003" y1="519.2" x2="202.3" y2="519.2" stroke="#333" stroke-width="1.2"/>
<rect x="195.45" y="520.80" width="9.30" height="10.50" fill="#7d7d7d" stroke="#222" stroke-width="1.1"/>
<line x1="209.4" y1="527.3" x2="209.4" y2="520.4" stroke="#333" stroke-width="1.0"/>
<line x1="207.20000000000002" y1="520.4" x2="211.6" y2="520.4" stroke="#333" stroke-width="1.2"/>
<rect x="204.75" y="527.30" width="9.30" height="4.00" fill="#262626" stroke="#222" stroke-width="1.1"/>
<line x1="231.45000000000002" y1="527.8" x2="231.45000000000002" y2="522.7" stroke="#333" stroke-width="1.0"/>
<line x1="229.25000000000003" y1="522.7" x2="233.65" y2="522.7" stroke="#333" stroke-width="1.2"/>
<rect x="226.80" y="527.80" width="9.30" height="3.50" fill="#ffffff" stroke="#222" stroke-width="1.1"/>
<line x1="240.75000000000003" y1="520.8" x2="240.75000000000003" y2="519.2" stroke="#333" stroke-width="1.0"/>
<line x1="238.55000000000004" y1="519.2" x2="242.95000000000002" y2="519.2" stroke="#333" stroke-width="1.2"/>
<rect x="236.10" y="520.80" width="9.30" height="10.50" fill="#7d7d7d" stroke="#222" stroke-width="1.1"/>
<line x1="250.05" y1="527.8" x2="250.05" y2="520.4" stroke="#333" stroke-width="1.0"/>
<line x1="247.85000000000002" y1="520.4" x2="252.25" y2="520.4" stroke="#333" stroke-width="1.2"/>
<rect x="245.40" y="527.80" width="9.30" height="3.50" fill="#262626" stroke="#222" stroke-width="1.1"/>
<line x1="272.09999999999997" y1="525" x2="272.09999999999997" y2="520.7" stroke="#333" stroke-width="1.0"/>
<line x1="269.9" y1="520.7" x2="274.29999999999995" y2="520.7" stroke="#333" stroke-width="1.2"/>
<rect x="267.45" y="525.00" width="9.30" height="6.30" fill="#ffffff" stroke="#222" stroke-width="1.1"/>
<line x1="281.4" y1="520.8" x2="281.4" y2="519.2" stroke="#333" stroke-width="1.0"/>
<line x1="279.2" y1="519.2" x2="283.59999999999997" y2="519.2" stroke="#333" stroke-width="1.2"/>
<rect x="276.75" y="520.80" width="9.30" height="10.50" fill="#7d7d7d" stroke="#222" stroke-width="1.1"/>
<line x1="290.7" y1="522.7" x2="290.7" y2="517" stroke="#333" stroke-width="1.0"/>
<line x1="288.5" y1="517" x2="292.9" y2="517" stroke="#333" stroke-width="1.2"/>
<rect x="286.05" y="522.70" width="9.30" height="8.60" fill="#262626" stroke="#222" stroke-width="1.1"/>
<line x1="312.75" y1="506.4" x2="312.75" y2="502.3" stroke="#333" stroke-width="1.0"/>
<line x1="310.55" y1="502.3" x2="314.95" y2="502.3" stroke="#333" stroke-width="1.2"/>
<rect x="308.10" y="506.40" width="9.30" height="24.90" fill="#ffffff" stroke="#222" stroke-width="1.1"/>
<line x1="322.05" y1="498.1" x2="322.05" y2="496.5" stroke="#333" stroke-width="1.0"/>
<line x1="319.85" y1="496.5" x2="324.25" y2="496.5" stroke="#333" stroke-width="1.2"/>
<rect x="317.40" y="498.10" width="9.30" height="33.20" fill="#7d7d7d" stroke="#222" stroke-width="1.1"/>
<line x1="331.35" y1="506.9" x2="331.35" y2="500.4" stroke="#333" stroke-width="1.0"/>
<line x1="329.15000000000003" y1="500.4" x2="333.55" y2="500.4" stroke="#333" stroke-width="1.2"/>
<rect x="326.70" y="506.90" width="9.30" height="24.40" fill="#262626" stroke="#222" stroke-width="1.1"/>
<line x1="353.4" y1="469.7" x2="353.4" y2="465.8" stroke="#333" stroke-width="1.0"/>
<line x1="351.2" y1="465.8" x2="355.59999999999997" y2="465.8" stroke="#333" stroke-width="1.2"/>
<rect x="348.75" y="469.70" width="9.30" height="61.60" fill="#ffffff" stroke="#222" stroke-width="1.1"/>
<line x1="362.7" y1="461.3" x2="362.7" y2="459.3" stroke="#333" stroke-width="1.0"/>
<line x1="360.5" y1="459.3" x2="364.9" y2="459.3" stroke="#333" stroke-width="1.2"/>
<rect x="358.05" y="461.30" width="9.30" height="70.00" fill="#7d7d7d" stroke="#222" stroke-width="1.1"/>
<line x1="372.0" y1="457.1" x2="372.0" y2="450.9" stroke="#333" stroke-width="1.0"/>
<line x1="369.8" y1="450.9" x2="374.2" y2="450.9" stroke="#333" stroke-width="1.2"/>
<rect x="367.35" y="457.10" width="9.30" height="74.20" fill="#262626" stroke="#222" stroke-width="1.1"/>
<line x1="394.04999999999995" y1="426" x2="394.04999999999995" y2="421.3" stroke="#333" stroke-width="1.0"/>
<line x1="391.84999999999997" y1="421.3" x2="396.24999999999994" y2="421.3" stroke="#333" stroke-width="1.2"/>
<rect x="389.40" y="426.00" width="9.30" height="105.30" fill="#ffffff" stroke="#222" stroke-width="1.1"/>
<line x1="403.34999999999997" y1="417.8" x2="403.34999999999997" y2="415.8" stroke="#333" stroke-width="1.0"/>
<line x1="401.15" y1="415.8" x2="405.54999999999995" y2="415.8" stroke="#333" stroke-width="1.2"/>
<rect x="398.70" y="417.80" width="9.30" height="113.50" fill="#7d7d7d" stroke="#222" stroke-width="1.1"/>
<line x1="412.65" y1="415.8" x2="412.65" y2="409.1" stroke="#333" stroke-width="1.0"/>
<line x1="410.45" y1="409.1" x2="414.84999999999997" y2="409.1" stroke="#333" stroke-width="1.2"/>
<rect x="408.00" y="415.80" width="9.30" height="115.50" fill="#262626" stroke="#222" stroke-width="1.1"/>
<line x1="151.25" y1="631.2" x2="151.25" y2="627.3" stroke="#333" stroke-width="1.0"/>
<line x1="149.05" y1="627.3" x2="153.45" y2="627.3" stroke="#333" stroke-width="1.2"/>
<rect x="146.60" y="631.20" width="9.30" height="1.70" fill="#ffffff" stroke="#222" stroke-width="1.1"/>
<line x1="160.55" y1="629.5" x2="160.55" y2="627.5" stroke="#333" stroke-width="1.0"/>
<line x1="158.35000000000002" y1="627.5" x2="162.75" y2="627.5" stroke="#333" stroke-width="1.2"/>
<rect x="155.90" y="629.50" width="9.30" height="3.40" fill="#7d7d7d" stroke="#222" stroke-width="1.1"/>
<line x1="169.85" y1="631.2" x2="169.85" y2="626.1" stroke="#333" stroke-width="1.0"/>
<line x1="167.65" y1="626.1" x2="172.04999999999998" y2="626.1" stroke="#333" stroke-width="1.2"/>
<rect x="165.20" y="631.20" width="9.30" height="1.70" fill="#262626" stroke="#222" stroke-width="1.1"/>
<line x1="191.95000000000002" y1="631.2" x2="191.95000000000002" y2="627.3" stroke="#333" stroke-width="1.0"/>
<line x1="189.75000000000003" y1="627.3" x2="194.15" y2="627.3" stroke="#333" stroke-width="1.2"/>
<rect x="187.30" y="631.20" width="9.30" height="1.70" fill="#ffffff" stroke="#222" stroke-width="1.1"/>
<line x1="201.25000000000003" y1="629.5" x2="201.25000000000003" y2="628" stroke="#333" stroke-width="1.0"/>
<line x1="199.05000000000004" y1="628" x2="203.45000000000002" y2="628" stroke="#333" stroke-width="1.2"/>
<rect x="196.60" y="629.50" width="9.30" height="3.40" fill="#7d7d7d" stroke="#222" stroke-width="1.1"/>
<line x1="210.55" y1="631.2" x2="210.55" y2="626.1" stroke="#333" stroke-width="1.0"/>
<line x1="208.35000000000002" y1="626.1" x2="212.75" y2="626.1" stroke="#333" stroke-width="1.2"/>
<rect x="205.90" y="631.20" width="9.30" height="1.70" fill="#262626" stroke="#222" stroke-width="1.1"/>
<line x1="232.65" y1="629.7" x2="232.65" y2="626.2" stroke="#333" stroke-width="1.0"/>
<line x1="230.45000000000002" y1="626.2" x2="234.85" y2="626.2" stroke="#333" stroke-width="1.2"/>
<rect x="228.00" y="629.70" width="9.30" height="3.20" fill="#ffffff" stroke="#222" stroke-width="1.1"/>
<line x1="241.95000000000002" y1="628.5" x2="241.95000000000002" y2="627.2" stroke="#333" stroke-width="1.0"/>
<line x1="239.75000000000003" y1="627.2" x2="244.15" y2="627.2" stroke="#333" stroke-width="1.2"/>
<rect x="237.30" y="628.50" width="9.30" height="4.40" fill="#7d7d7d" stroke="#222" stroke-width="1.1"/>
<line x1="251.25" y1="631.2" x2="251.25" y2="626.2" stroke="#333" stroke-width="1.0"/>
<line x1="249.05" y1="626.2" x2="253.45" y2="626.2" stroke="#333" stroke-width="1.2"/>
<rect x="246.60" y="631.20" width="9.30" height="1.70" fill="#262626" stroke="#222" stroke-width="1.1"/>
<line x1="273.34999999999997" y1="626.2" x2="273.34999999999997" y2="622.8" stroke="#333" stroke-width="1.0"/>
<line x1="271.15" y1="622.8" x2="275.54999999999995" y2="622.8" stroke="#333" stroke-width="1.2"/>
<rect x="268.70" y="626.20" width="9.30" height="6.70" fill="#ffffff" stroke="#222" stroke-width="1.1"/>
<line x1="282.65" y1="628.5" x2="282.65" y2="627" stroke="#333" stroke-width="1.0"/>
<line x1="280.45" y1="627" x2="284.84999999999997" y2="627" stroke="#333" stroke-width="1.2"/>
<rect x="278.00" y="628.50" width="9.30" height="4.40" fill="#7d7d7d" stroke="#222" stroke-width="1.1"/>
<line x1="291.95" y1="631.5" x2="291.95" y2="626.2" stroke="#333" stroke-width="1.0"/>
<line x1="289.75" y1="626.2" x2="294.15" y2="626.2" stroke="#333" stroke-width="1.2"/>
<rect x="287.30" y="631.50" width="9.30" height="1.40" fill="#262626" stroke="#222" stroke-width="1.1"/>
<line x1="314.04999999999995" y1="620.3" x2="314.04999999999995" y2="617.4" stroke="#333" stroke-width="1.0"/>
<line x1="311.84999999999997" y1="617.4" x2="316.24999999999994" y2="617.4" stroke="#333" stroke-width="1.2"/>
<rect x="309.40" y="620.30" width="9.30" height="12.60" fill="#ffffff" stroke="#222" stroke-width="1.1"/>
<line x1="323.34999999999997" y1="628.2" x2="323.34999999999997" y2="626.2" stroke="#333" stroke-width="1.0"/>
<line x1="321.15" y1="626.2" x2="325.54999999999995" y2="626.2" stroke="#333" stroke-width="1.2"/>
<rect x="318.70" y="628.20" width="9.30" height="4.70" fill="#7d7d7d" stroke="#222" stroke-width="1.1"/>
<line x1="332.65" y1="626.5" x2="332.65" y2="620.3" stroke="#333" stroke-width="1.0"/>
<line x1="330.45" y1="620.3" x2="334.84999999999997" y2="620.3" stroke="#333" stroke-width="1.2"/>
<rect x="328.00" y="626.50" width="9.30" height="6.40" fill="#262626" stroke="#222" stroke-width="1.1"/>
<line x1="354.75" y1="613.4" x2="354.75" y2="609.5" stroke="#333" stroke-width="1.0"/>
<line x1="352.55" y1="609.5" x2="356.95" y2="609.5" stroke="#333" stroke-width="1.2"/>
<rect x="350.10" y="613.40" width="9.30" height="19.50" fill="#ffffff" stroke="#222" stroke-width="1.1"/>
<line x1="364.05" y1="622.3" x2="364.05" y2="620.3" stroke="#333" stroke-width="1.0"/>
<line x1="361.85" y1="620.3" x2="366.25" y2="620.3" stroke="#333" stroke-width="1.2"/>
<rect x="359.40" y="622.30" width="9.30" height="10.60" fill="#7d7d7d" stroke="#222" stroke-width="1.1"/>
<line x1="373.35" y1="620.3" x2="373.35" y2="614.9" stroke="#333" stroke-width="1.0"/>
<line x1="371.15000000000003" y1="614.9" x2="375.55" y2="614.9" stroke="#333" stroke-width="1.2"/>
<rect x="368.70" y="620.30" width="9.30" height="12.60" fill="#262626" stroke="#222" stroke-width="1.1"/>
<line x1="395.45" y1="606.2" x2="395.45" y2="602.3" stroke="#333" stroke-width="1.0"/>
<line x1="393.25" y1="602.3" x2="397.65" y2="602.3" stroke="#333" stroke-width="1.2"/>
<rect x="390.80" y="606.20" width="9.30" height="26.70" fill="#ffffff" stroke="#222" stroke-width="1.1"/>
<line x1="404.75" y1="620.3" x2="404.75" y2="618.5" stroke="#333" stroke-width="1.0"/>
<line x1="402.55" y1="618.5" x2="406.95" y2="618.5" stroke="#333" stroke-width="1.2"/>
<rect x="400.10" y="620.30" width="9.30" height="12.60" fill="#7d7d7d" stroke="#222" stroke-width="1.1"/>
<line x1="414.05" y1="617.2" x2="414.05" y2="611.5" stroke="#333" stroke-width="1.0"/>
<line x1="411.85" y1="611.5" x2="416.25" y2="611.5" stroke="#333" stroke-width="1.2"/>
<rect x="409.40" y="617.20" width="9.30" height="15.70" fill="#262626" stroke="#222" stroke-width="1.1"/>
<line x1="139.5" y1="366.8" x2="139.5" y2="531.8" stroke="#333" stroke-width="1.4"/>
<line x1="140.3" y1="545.6" x2="140.3" y2="637.3" stroke="#333" stroke-width="1.4"/>
<line x1="135" y1="366.8" x2="139.5" y2="366.8" stroke="#333" stroke-width="1.3"/>
<line x1="135" y1="408" x2="139.5" y2="408" stroke="#333" stroke-width="1.3"/>
<line x1="135" y1="449" x2="139.5" y2="449" stroke="#333" stroke-width="1.3"/>
<line x1="135" y1="490" x2="139.5" y2="490" stroke="#333" stroke-width="1.3"/>
<line x1="135" y1="531.3" x2="139.5" y2="531.3" stroke="#333" stroke-width="1.3"/>
<line x1="136.4" y1="560.6" x2="140.3" y2="560.6" stroke="#333" stroke-width="1.3"/>
<line x1="136.4" y1="597.2" x2="140.3" y2="597.2" stroke="#333" stroke-width="1.3"/>
<line x1="136.4" y1="632.9" x2="140.3" y2="632.9" stroke="#333" stroke-width="1.3"/>
</svg>
</body></html>
